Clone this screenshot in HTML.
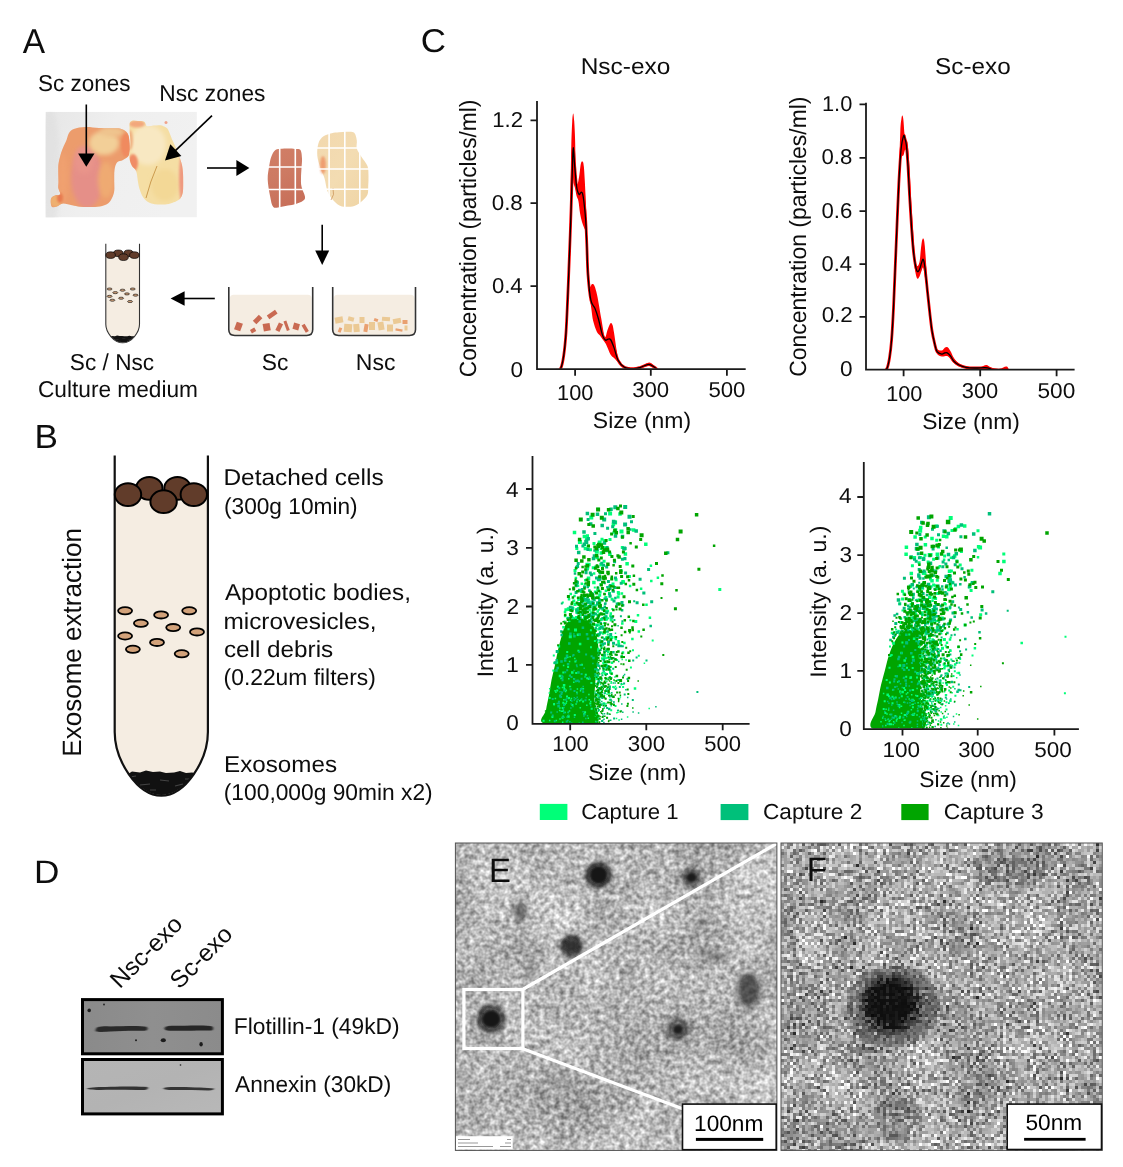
<!DOCTYPE html>
<html><head><meta charset="utf-8"><style>
html,body{margin:0;padding:0;background:#fff;overflow:hidden;}
svg{display:block;}
text{font-family:"Liberation Sans",sans-serif;text-rendering:geometricPrecision;}
svg{will-change:transform;}
</style></head><body>
<svg width="1123" height="1167" viewBox="0 0 1123 1167">
<rect width="1123" height="1167" fill="#fff"/>
<defs>
<marker id="ah" viewBox="0 0 10 10" refX="9" refY="5" markerWidth="5" markerHeight="5" orient="auto-start-reverse" markerUnits="userSpaceOnUse"><path d="M0 0L10 5L0 10z" fill="#000"/></marker>
</defs>
<defs>
<linearGradient id="phbg" x1="0" y1="0" x2="1" y2="0.3"><stop offset="0" stop-color="#e6e6e6"/><stop offset="0.45" stop-color="#efefef"/><stop offset="1" stop-color="#f1f1f1"/></linearGradient>
<radialGradient id="scg" cx="0.45" cy="0.6" r="0.6"><stop offset="0" stop-color="#e38a82"/><stop offset="0.6" stop-color="#e99574"/><stop offset="1" stop-color="#f0a26a"/></radialGradient>
<radialGradient id="nscg" cx="0.45" cy="0.55" r="0.6"><stop offset="0" stop-color="#f8e6b4"/><stop offset="0.7" stop-color="#f5dea6"/><stop offset="1" stop-color="#f0c890"/></radialGradient>
<filter id="bl2" x="-20%" y="-20%" width="140%" height="140%"><feGaussianBlur stdDeviation="2"/></filter>
<filter id="bl1" x="-20%" y="-20%" width="140%" height="140%"><feGaussianBlur stdDeviation="0.8"/></filter>
<clipPath id="phclip"><rect x="45.5" y="111.8" width="151.4" height="105.6"/></clipPath>
<linearGradient id="scp" x1="0" y1="0" x2="0.3" y2="1"><stop offset="0" stop-color="#d17e66"/><stop offset="0.5" stop-color="#cd7a63"/><stop offset="1" stop-color="#c8705a"/></linearGradient>
<linearGradient id="nscp" x1="0" y1="0" x2="1" y2="1"><stop offset="0" stop-color="#f2d8ae"/><stop offset="0.5" stop-color="#f3dcb2"/><stop offset="1" stop-color="#efd4a4"/></linearGradient>
</defs>
<g clip-path="url(#phclip)">
<rect x="45.5" y="111.8" width="151.4" height="105.6" fill="url(#phbg)"/>
<ellipse cx="50" cy="170" rx="10" ry="60" fill="#dcdcdc" opacity="0.5" filter="url(#bl2)"/>
<clipPath id="sctc"><path d="M66.6 139.7 C67.6 137.23 67.8 134.8 69 133 C70.2 131.2 71.05 129.88 73.8 128.9 C76.55 127.92 81.3 127.25 85.5 127.1 C89.7 126.95 94.92 127.8 99 128 C103.08 128.2 106.27 128.15 110 128.3 C113.73 128.45 118.45 128.05 121.4 128.9 C124.35 129.75 126.35 131.05 127.7 133.4 C129.05 135.75 129.28 139.4 129.5 143 C129.72 146.6 130.08 152.17 129 155 C127.92 157.83 125 158.75 123 160 C121 161.25 118.42 160.83 117 162.5 C115.58 164.17 114.97 166.92 114.5 170 C114.03 173.08 114.25 177.5 114.2 181 C114.15 184.5 114.57 188.17 114.2 191 C113.83 193.83 113.03 195.92 112 198 C110.97 200.08 110 202.08 108 203.5 C106 204.92 103 205.9 100 206.5 C97 207.1 93.33 207.05 90 207.1 C86.67 207.15 83 207.1 80 206.8 C77 206.5 74.83 205.85 72 205.3 C69.17 204.75 65.5 203.3 63 203.5 C60.5 203.7 58.8 205.9 57 206.5 C55.2 207.1 53.23 207.68 52.2 207.1 C51.17 206.52 50.95 204.5 50.8 203 C50.65 201.5 50.6 199.35 51.3 198.1 C52 196.85 53.5 196.1 55 195.5 C56.5 194.9 59.75 195.75 60.3 194.5 C60.85 193.25 58.6 190.08 58.3 188 C58 185.92 58.5 184.67 58.5 182 C58.5 179.33 58.3 175 58.3 172 C58.3 169 58.13 166.83 58.5 164 C58.87 161.17 59.75 157.7 60.5 155 C61.25 152.3 61.98 150.35 63 147.8 C64.02 145.25 65.6 142.17 66.6 139.7Z"/></clipPath>
<clipPath id="nsctc"><path d="M129.9 122.6 C130.48 121.52 131.65 120.77 133 120.5 C134.35 120.23 136.12 120.8 138 121 C139.88 121.2 142.8 120.83 144.3 121.7 C145.8 122.57 145.38 125.57 147 126.2 C148.62 126.83 151.75 125.65 154 125.5 C156.25 125.35 158.5 124.97 160.5 125.3 C162.5 125.63 164.65 126.6 166 127.5 C167.35 128.4 167.43 128.37 168.6 130.7 C169.77 133.03 171.68 138.45 173 141.5 C174.32 144.55 175.43 146.45 176.5 149 C177.57 151.55 178.48 154.13 179.4 156.8 C180.32 159.47 181.4 162.3 182 165 C182.6 167.7 182.8 170.17 183 173 C183.2 175.83 183.2 179 183.2 182 C183.2 185 183.28 188.58 183 191 C182.72 193.42 182.25 195 181.5 196.5 C180.75 198 180.08 198.92 178.5 200 C176.92 201.08 174.25 202.27 172 203 C169.75 203.73 167.33 204.15 165 204.4 C162.67 204.65 160.25 204.65 158 204.5 C155.75 204.35 153.5 204.17 151.5 203.5 C149.5 202.83 147.5 201.7 146 200.5 C144.5 199.3 143.58 198.22 142.5 196.3 C141.42 194.38 140.25 191.38 139.5 189 C138.75 186.62 138.55 184.97 138 182 C137.45 179.03 137.2 173.87 136.2 171.2 C135.2 168.53 133.05 167.8 132 166 C130.95 164.2 130.32 162.23 129.9 160.4 C129.48 158.57 129.5 156.65 129.5 155 C129.5 153.35 129.73 152.67 129.9 150.5 C130.07 148.33 130.5 144.7 130.5 142 C130.5 139.3 130.07 136.8 129.9 134.3 C129.73 131.8 129.5 128.95 129.5 127 C129.5 125.05 129.32 123.68 129.9 122.6Z"/></clipPath>
<g clip-path="url(#sctc)">
<rect x="45" y="120" width="90" height="95" fill="#ec9c6c"/>
<ellipse cx="87" cy="178" rx="16" ry="30" fill="#e58f88" filter="url(#bl2)"/>
<ellipse cx="84" cy="160" rx="10" ry="14" fill="#e9948a" filter="url(#bl2)"/>
<ellipse cx="104" cy="143" rx="15" ry="12" fill="#f2cf98" filter="url(#bl2)"/>
<ellipse cx="112" cy="132" rx="12" ry="5" fill="#efc48e" filter="url(#bl2)"/>
<ellipse cx="106" cy="180" rx="8" ry="18" fill="#efaa72" filter="url(#bl2)"/>
<ellipse cx="63" cy="178" rx="5" ry="25" fill="#f0a070" filter="url(#bl2)"/>
<ellipse cx="126" cy="145" rx="5" ry="12" fill="#f08a5e" filter="url(#bl1)"/>
<ellipse cx="56" cy="201" rx="6" ry="6" fill="#eeb070" filter="url(#bl1)"/>
<ellipse cx="60" cy="198" rx="3" ry="5" fill="#e87a50" filter="url(#bl1)"/>
</g>
<g clip-path="url(#nsctc)">
<rect x="125" y="115" width="65" height="95" fill="#f5dea4"/>
<ellipse cx="148" cy="145" rx="18" ry="20" fill="#f8e8c2" filter="url(#bl2)"/>
<ellipse cx="165" cy="185" rx="14" ry="16" fill="#f3d896" filter="url(#bl2)"/>
<ellipse cx="182" cy="178" rx="3" ry="25" fill="#ef9a80" filter="url(#bl1)"/>
<ellipse cx="137" cy="124" rx="8" ry="3.5" fill="#f29a72" opacity="0.8" filter="url(#bl1)"/>
<ellipse cx="133" cy="163" rx="5" ry="9" fill="#f08c66" filter="url(#bl1)"/>
<ellipse cx="130" cy="140" rx="3" ry="10" fill="#f0b080" filter="url(#bl1)"/>
<path d="M146 198 Q150 182 157 166" stroke="#c08a3a" stroke-width="1" fill="none" opacity="0.8"/>
</g>
<circle cx="166" cy="122.5" r="1.5" fill="#f09070" opacity="0.8"/>
</g>
<line x1="86.3" y1="104.5" x2="86.3" y2="154.5" stroke="#000" stroke-width="1.6"/>
<path d="M86.3 166.7L78.1 153.5L94.5 153.5Z" fill="#000"/>
<line x1="212" y1="115.7" x2="175.13" y2="150.84" stroke="#000" stroke-width="1.6"/>
<path d="M165 160.5L170.34 144.36L181.38 155.94Z" fill="#000"/>
<line x1="207" y1="168" x2="237.4" y2="168" stroke="#000" stroke-width="1.6"/>
<path d="M249.4 168L236.4 176L236.4 160Z" fill="#000"/>
<line x1="322.2" y1="224.8" x2="322.2" y2="251.5" stroke="#000" stroke-width="1.6"/>
<path d="M322.2 265L315.2 250.5L329.2 250.5Z" fill="#000"/>
<line x1="214.8" y1="298.5" x2="183.6" y2="298.5" stroke="#000" stroke-width="1.6"/>
<path d="M170.6 298.5L184.6 291.2L184.6 305.8Z" fill="#000"/>
<path d="M275.4 150.1 C277.18 148.78 279.78 149.05 282 148.8 C284.22 148.55 286.53 148.57 288.7 148.6 C290.87 148.63 293.03 148.75 295 149 C296.97 149.25 299.33 148.47 300.5 150.1 C301.67 151.73 301.83 155.82 302 158.8 C302.17 161.78 301.67 164.75 301.5 168 C301.33 171.25 301 175.23 301 178.3 C301 181.37 300.83 183.33 301.5 186.4 C302.17 189.47 304.75 194.3 305 196.7 C305.25 199.1 304.53 199.6 303 200.8 C301.47 202 298.3 203.12 295.8 203.9 C293.3 204.68 290.55 205 288 205.5 C285.45 206 282.95 206.67 280.5 206.9 C278.05 207.13 275.02 208.6 273.3 206.9 C271.58 205.2 271.13 201.3 270.2 196.7 C269.27 192.1 267.87 184.42 267.7 179.3 C267.53 174.18 268.6 169.77 269.2 166 C269.8 162.23 270.27 159.35 271.3 156.7 C272.33 154.05 273.62 151.42 275.4 150.1Z" fill="url(#scp)"/>
<path d="M318.4 143.4 C319.43 140.17 321.28 138 323.5 136.3 C325.72 134.6 329.12 133.87 331.7 133.2 C334.28 132.53 336.45 132.55 339 132.3 C341.55 132.05 344.47 131.63 347 131.7 C349.53 131.77 352.57 131.25 354.2 132.7 C355.83 134.15 356.37 137.75 356.8 140.4 C357.23 143.05 356.03 145.88 356.8 148.6 C357.57 151.32 359.62 153.8 361.4 156.7 C363.18 159.6 366.32 162.75 367.5 166 C368.68 169.25 368.38 172.87 368.5 176.2 C368.62 179.53 368.37 182.93 368.2 186 C368.03 189.07 368.47 192.13 367.5 194.6 C366.53 197.07 364.62 198.92 362.4 200.8 C360.18 202.68 357.62 204.97 354.2 205.9 C350.78 206.83 345.32 207.25 341.9 206.4 C338.48 205.55 336.08 203.27 333.7 200.8 C331.32 198.33 329.13 195.35 327.6 191.6 C326.07 187.85 325.7 182.23 324.5 178.3 C323.3 174.37 321.6 171.77 320.4 168 C319.2 164.23 317.63 159.8 317.3 155.7 C316.97 151.6 317.37 146.63 318.4 143.4Z" fill="url(#nscp)"/>
<ellipse cx="323" cy="165" rx="3" ry="9" fill="#ee9060" opacity="0.8" filter="url(#bl1)"/>
<path d="M333 188 Q335 195 331 200" stroke="#c08040" stroke-width="1" fill="none" opacity="0.6"/>
<path d="M279.7 146V210M295.3 146V210M265 167H308M265 189.5H308" stroke="#fff" stroke-width="1.6"/>
<path d="M329.1 128V210M344.8 128V210M359.8 128V210M315 148H372M315 169H372M315 189.3H372" stroke="#fff" stroke-width="1.6"/>
<rect x="229.8" y="294.8" width="81.9" height="40.2" rx="4" fill="#f5ede2"/>
<rect x="-3.25" y="-4" width="6.5" height="8" fill="#c96a52" transform="translate(238.5 326.5) rotate(20)"/>
<rect x="-2.5" y="-2" width="5" height="4" fill="#c96a52" transform="translate(253.1 330.4) rotate(-30)"/>
<rect x="-2.5" y="-4.25" width="5" height="8.5" fill="#c96a52" transform="translate(257.6 319.6) rotate(45)"/>
<rect x="-3.5" y="-3.75" width="7" height="7.5" fill="#c96a52" transform="translate(266.7 327.2) rotate(-10)"/>
<rect x="-2.25" y="-5" width="4.5" height="10" fill="#c96a52" transform="translate(272.2 314.5) rotate(55)"/>
<rect x="-2.25" y="-4.25" width="4.5" height="8.5" fill="#c96a52" transform="translate(279.2 327.2) rotate(25)"/>
<rect x="-1.5" y="-5" width="3" height="10" fill="#c96a52" transform="translate(286.6 325.7) rotate(-20)"/>
<rect x="-3" y="-3.25" width="6" height="6.5" fill="#c96a52" transform="translate(296.2 326.5) rotate(15)"/>
<rect x="-1.75" y="-4.25" width="3.5" height="8.5" fill="#c96a52" transform="translate(305.2 328.3) rotate(-30)"/>
<path d="M228.8 286.9V329.5Q228.8 335.5 234.8 335.5H306.7Q312.7 335.5 312.7 329.5V286.9" fill="none" stroke="#333" stroke-width="1.6"/>
<rect x="333.7" y="294.8" width="80.8" height="40.2" rx="4" fill="#f5ede2"/>
<rect x="-4" y="-3" width="8" height="6" fill="#ebc994" transform="translate(339 320) rotate(-10)"/>
<rect x="-1.5" y="-2.5" width="3" height="5" fill="#e9a070" transform="translate(340 330) rotate(20)"/>
<rect x="-4" y="-4" width="8" height="8" fill="#ebc994" transform="translate(348 328) rotate(5)"/>
<rect x="-3" y="-2" width="6" height="4" fill="#ebc994" transform="translate(351 319) rotate(15)"/>
<rect x="-3" y="-4" width="6" height="8" fill="#ebc994" transform="translate(356.5 328) rotate(-5)"/>
<rect x="-2.5" y="-3" width="5" height="6" fill="#ebc994" transform="translate(362 320) rotate(0)"/>
<rect x="-2" y="-4" width="4" height="8" fill="#e9a070" transform="translate(366 328) rotate(10)"/>
<rect x="-3" y="-4" width="6" height="8" fill="#ebc994" transform="translate(372 326) rotate(0)"/>
<rect x="-2" y="-1.5" width="4" height="3" fill="#e9a070" transform="translate(376 320) rotate(20)"/>
<rect x="-3" y="-4" width="6" height="8" fill="#ebc994" transform="translate(381 326) rotate(-10)"/>
<rect x="-4" y="-2" width="8" height="4" fill="#ebc994" transform="translate(386 319) rotate(5)"/>
<rect x="-3" y="-3.5" width="6" height="7" fill="#ebc994" transform="translate(390 328) rotate(0)"/>
<rect x="-4" y="-2.5" width="8" height="5" fill="#ebc994" transform="translate(397 321) rotate(-10)"/>
<rect x="-3.5" y="-1.25" width="7" height="2.5" fill="#e9a070" transform="translate(399 330) rotate(10)"/>
<rect x="-1.5" y="-2.5" width="3" height="5" fill="#ebc994" transform="translate(406 328) rotate(0)"/>
<rect x="-2.5" y="-2" width="5" height="4" fill="#e9a070" transform="translate(405 322) rotate(0)"/>
<path d="M332.7 286.9V329.5Q332.7 335.5 338.7 335.5H409.5Q415.5 335.5 415.5 329.5V286.9" fill="none" stroke="#333" stroke-width="1.6"/>
<defs><clipPath id="tclip"><path d="M114.7 490V732C114.7 760 137 795 161.3 795C185.6 795 207.9 760 207.9 732V490Z"/></clipPath></defs>
<g id="tubeB"><path d="M114.7 490V732C114.7 760 137 795 161.3 795C185.6 795 207.9 760 207.9 732V490Z" fill="#f5ede2"/><path d="M110 778 L128 774 L132 771.5 L140 772.5 L146 770.5 L153 772 L160 771.5 L166 773 L174 772.5 L180 771 L186 773 L192 772.5 L200 774 L215 778 V800 H110Z" fill="#111" clip-path="url(#tclip)"/><path d="M120 782l8-2M140 785l10-1M160 780l9 1M175 786l8-2M150 790l6 0M130 777l6-1M185 779l7 0" stroke="#444" stroke-width="1.2" clip-path="url(#tclip)"/><path d="M114.7 455.4V732C114.7 760 137 795.6 161.3 795.6C185.6 795.6 207.9 760 207.9 732V455.4" fill="none" stroke="#111" stroke-width="2.2"/><ellipse cx="149.3" cy="488.4" rx="13.2" ry="11.4" fill="#613c2a" stroke="#000" stroke-width="2"/><ellipse cx="177.5" cy="488.4" rx="13.2" ry="11.4" fill="#613c2a" stroke="#000" stroke-width="2"/><ellipse cx="128" cy="494.6" rx="13.2" ry="11.4" fill="#613c2a" stroke="#000" stroke-width="2"/><ellipse cx="193.8" cy="494.6" rx="13.2" ry="11.4" fill="#613c2a" stroke="#000" stroke-width="2"/><ellipse cx="163.6" cy="501.7" rx="13.2" ry="11.4" fill="#613c2a" stroke="#000" stroke-width="2"/><ellipse cx="125.1" cy="610.8" rx="7" ry="3.6" fill="#d2a27a" stroke="#000" stroke-width="1.8"/><ellipse cx="161.1" cy="614.9" rx="7" ry="3.6" fill="#d2a27a" stroke="#000" stroke-width="1.8"/><ellipse cx="189.2" cy="610.8" rx="7" ry="3.6" fill="#d2a27a" stroke="#000" stroke-width="1.8"/><ellipse cx="140.9" cy="623.3" rx="7" ry="3.6" fill="#d2a27a" stroke="#000" stroke-width="1.8"/><ellipse cx="173.2" cy="627.6" rx="7" ry="3.6" fill="#d2a27a" stroke="#000" stroke-width="1.8"/><ellipse cx="197" cy="631.9" rx="7" ry="3.6" fill="#d2a27a" stroke="#000" stroke-width="1.8"/><ellipse cx="125.1" cy="636" rx="7" ry="3.6" fill="#d2a27a" stroke="#000" stroke-width="1.8"/><ellipse cx="157" cy="642.4" rx="7" ry="3.6" fill="#d2a27a" stroke="#000" stroke-width="1.8"/><ellipse cx="132.9" cy="649.3" rx="7" ry="3.6" fill="#d2a27a" stroke="#000" stroke-width="1.8"/><ellipse cx="181.7" cy="653.8" rx="7" ry="3.6" fill="#d2a27a" stroke="#000" stroke-width="1.8"/></g>
<g transform="translate(64.326 110.908) scale(0.3616 0.2916)"><path d="M114.7 490V732C114.7 760 137 795 161.3 795C185.6 795 207.9 760 207.9 732V490Z" fill="#f5ede2"/><path d="M110 778 L128 774 L132 771.5 L140 772.5 L146 770.5 L153 772 L160 771.5 L166 773 L174 772.5 L180 771 L186 773 L192 772.5 L200 774 L215 778 V800 H110Z" fill="#111" clip-path="url(#tclip)"/><path d="M120 782l8-2M140 785l10-1M160 780l9 1M175 786l8-2M150 790l6 0M130 777l6-1M185 779l7 0" stroke="#444" stroke-width="1.2" clip-path="url(#tclip)"/><path d="M114.7 455.4V732C114.7 760 137 795.6 161.3 795.6C185.6 795.6 207.9 760 207.9 732V455.4" fill="none" stroke="#333" stroke-width="3"/><ellipse cx="149.3" cy="488.4" rx="13.2" ry="11.4" fill="#613c2a" stroke="#000" stroke-width="2"/><ellipse cx="177.5" cy="488.4" rx="13.2" ry="11.4" fill="#613c2a" stroke="#000" stroke-width="2"/><ellipse cx="128" cy="494.6" rx="13.2" ry="11.4" fill="#613c2a" stroke="#000" stroke-width="2"/><ellipse cx="193.8" cy="494.6" rx="13.2" ry="11.4" fill="#613c2a" stroke="#000" stroke-width="2"/><ellipse cx="163.6" cy="501.7" rx="13.2" ry="11.4" fill="#613c2a" stroke="#000" stroke-width="2"/><ellipse cx="125.1" cy="610.8" rx="7" ry="3.6" fill="#d2a27a" stroke="#000" stroke-width="1.8"/><ellipse cx="161.1" cy="614.9" rx="7" ry="3.6" fill="#d2a27a" stroke="#000" stroke-width="1.8"/><ellipse cx="189.2" cy="610.8" rx="7" ry="3.6" fill="#d2a27a" stroke="#000" stroke-width="1.8"/><ellipse cx="140.9" cy="623.3" rx="7" ry="3.6" fill="#d2a27a" stroke="#000" stroke-width="1.8"/><ellipse cx="173.2" cy="627.6" rx="7" ry="3.6" fill="#d2a27a" stroke="#000" stroke-width="1.8"/><ellipse cx="197" cy="631.9" rx="7" ry="3.6" fill="#d2a27a" stroke="#000" stroke-width="1.8"/><ellipse cx="125.1" cy="636" rx="7" ry="3.6" fill="#d2a27a" stroke="#000" stroke-width="1.8"/><ellipse cx="157" cy="642.4" rx="7" ry="3.6" fill="#d2a27a" stroke="#000" stroke-width="1.8"/><ellipse cx="132.9" cy="649.3" rx="7" ry="3.6" fill="#d2a27a" stroke="#000" stroke-width="1.8"/><ellipse cx="181.7" cy="653.8" rx="7" ry="3.6" fill="#d2a27a" stroke="#000" stroke-width="1.8"/></g>
<defs><clipPath id="c1"><rect x="538" y="90" width="210" height="278.5"/></clipPath><clipPath id="c2"><rect x="867" y="90" width="210" height="279"/></clipPath></defs>
<g clip-path="url(#c1)">
<path d="M548 371.5 C549.33 371.05 553.87 369.47 556 368.8 C558.13 368.13 559.52 369.97 560.8 367.5 C562.08 365.03 562.83 360.25 563.7 354 C564.57 347.75 565.33 339.83 566 330 C566.67 320.17 567.22 305.83 567.7 295 C568.18 284.17 568.48 276.17 568.9 265 C569.32 253.83 569.93 238.83 570.2 228 C570.47 217.17 570.4 208.83 570.5 200 C570.6 191.17 570.67 184.17 570.8 175 C570.93 165.83 571.07 153.83 571.3 145 C571.53 136.17 571.88 127.27 572.2 122 C572.52 116.73 572.87 113.57 573.2 113.4 C573.53 113.23 573.88 116.57 574.2 121 C574.52 125.43 574.87 132.17 575.1 140 C575.33 147.83 575.38 161.17 575.6 168 C575.82 174.83 576.07 178.33 576.4 181 C576.73 183.67 577.13 184.83 577.6 184 C578.07 183.17 578.67 179.33 579.2 176 C579.73 172.67 580.27 166.43 580.8 164 C581.33 161.57 581.88 160.9 582.4 161.4 C582.92 161.9 583.37 161.23 583.9 167 C584.43 172.77 585.12 186.33 585.6 196 C586.08 205.67 586.4 212.67 586.8 225 C587.2 237.33 587.52 259.78 588 270 C588.48 280.22 589.03 283.97 589.7 286.3 C590.37 288.63 591.23 284.13 592 284 C592.77 283.87 593.43 283.58 594.3 285.5 C595.17 287.42 596.03 289.97 597.2 295.5 C598.37 301.03 600.03 311.78 601.3 318.7 C602.57 325.62 603.77 335.12 604.8 337 C605.83 338.88 606.55 332.28 607.5 330 C608.45 327.72 609.67 324.13 610.5 323.3 C611.33 322.47 611.92 323.45 612.5 325 C613.08 326.55 613.17 327.48 614 332.6 C614.83 337.72 616.53 350.68 617.5 355.7 C618.47 360.72 618.27 360.58 619.8 362.7 C621.33 364.82 624.17 367.4 626.7 368.4 C629.23 369.4 632.45 369.1 635 368.7 C637.55 368.3 639.62 367.03 642 366 C644.38 364.97 647.13 362.42 649.3 362.5 C651.47 362.58 653.05 365 655 366.5 C656.95 368 653.5 370.67 661 371.5 C668.5 372.33 693.5 371.5 700 371.5 L700 371.5 700 371.5 C693.5 371.5 668.5 372.08 661 371.5 C653.5 370.92 657 368.92 655 368 C653 367.08 651.17 366 649 366 C646.83 366 644.55 367.08 642 368 C639.45 368.92 636.63 371.43 633.7 371.5 C630.77 371.57 627.1 370.07 624.4 368.4 C621.7 366.73 619.23 363.23 617.5 361.5 C615.77 359.77 615.17 359.15 614 358 C612.83 356.85 611.85 356.92 610.5 354.6 C609.15 352.28 607.25 346.7 605.9 344.1 C604.55 341.5 603.38 340.43 602.4 339 C601.42 337.57 600.95 336.77 600 335.5 C599.05 334.23 597.83 333.82 596.7 331.4 C595.57 328.98 594.07 324.57 593.2 321 C592.33 317.43 592.08 314.33 591.5 310 C590.92 305.67 590.28 300.67 589.7 295 C589.12 289.33 588.48 284.17 588 276 C587.52 267.83 587.2 253.33 586.8 246 C586.4 238.67 586.07 235.1 585.6 232 C585.13 228.9 584.6 229.07 584 227.4 C583.4 225.73 582.67 224.4 582 222 C581.33 219.6 580.6 216.5 580 213 C579.4 209.5 578.97 203.83 578.4 201 C577.83 198.17 577.17 198.17 576.6 196 C576.03 193.83 575.5 190.08 575 188 C574.5 185.92 574.03 185.67 573.6 183.5 C573.17 181.33 572.83 169.75 572.4 175 C571.97 180.25 571.37 204.17 571 215 C570.63 225.83 570.55 230.5 570.2 240 C569.85 249.5 569.32 262 568.9 272 C568.48 282 568.18 289.5 567.7 300 C567.22 310.5 566.67 325.5 566 335 C565.33 344.5 564.57 350.92 563.7 357 C562.83 363.08 562.08 369.08 560.8 371.5 C559.52 373.92 558.13 371.5 556 371.5 C553.87 371.5 549.33 371.5 548 371.5Z" fill="#ff0000"/>
<path d="M548 371.5 C549.33 371.5 553.87 372.05 556 371.5 C558.13 370.95 559.52 370.83 560.8 368.2 C562.08 365.57 562.83 361.63 563.7 355.7 C564.57 349.77 565.33 342.23 566 332.6 C566.67 322.97 567.22 308.52 567.7 297.9 C568.18 287.28 568.48 279.38 568.9 268.9 C569.32 258.42 569.85 244.48 570.2 235 C570.55 225.52 570.63 223.17 571 212 C571.37 200.83 572.03 178.73 572.4 168 C572.77 157.27 572.8 147.7 573.2 147.6 C573.6 147.5 574.23 160.9 574.8 167.4 C575.37 173.9 575.9 182.1 576.6 186.6 C577.3 191.1 578.3 193.42 579 194.4 C579.7 195.38 580.23 192.7 580.8 192.5 C581.37 192.3 581.9 191.78 582.4 193.2 C582.9 194.62 583.27 196.7 583.8 201 C584.33 205.3 585.1 211.83 585.6 219 C586.1 226.17 586.4 234.72 586.8 244 C587.2 253.28 587.32 265.33 588 274.7 C588.68 284.07 589.75 294.6 590.9 300.2 C592.05 305.8 593.65 305.22 594.9 308.3 C596.15 311.38 597.15 314.27 598.4 318.7 C599.65 323.13 601.25 331.33 602.4 334.9 C603.55 338.47 604.37 339.38 605.3 340.1 C606.23 340.82 607.13 339.3 608 339.2 C608.87 339.1 609.5 338.1 610.5 339.5 C611.5 340.9 612.73 344.13 614 347.6 C615.27 351.07 616.37 357.02 618.1 360.3 C619.83 363.58 621.8 365.9 624.4 367.3 C627 368.7 631 368.7 633.7 368.7 C636.4 368.7 638.1 368.02 640.6 367.3 C643.1 366.58 646.38 364.4 648.7 364.4 C651.02 364.4 652.57 366.12 654.5 367.3 C656.43 368.48 658.05 370.8 660.3 371.5 C662.55 372.2 661.38 371.5 668 371.5 C674.62 371.5 694.67 371.5 700 371.5" fill="none" stroke="#ff0000" stroke-width="2.8" stroke-linejoin="round"/>
<path d="M548 371.5 C549.33 371.5 553.87 372.05 556 371.5 C558.13 370.95 559.52 370.83 560.8 368.2 C562.08 365.57 562.83 361.63 563.7 355.7 C564.57 349.77 565.33 342.23 566 332.6 C566.67 322.97 567.22 308.52 567.7 297.9 C568.18 287.28 568.48 279.38 568.9 268.9 C569.32 258.42 569.85 244.48 570.2 235 C570.55 225.52 570.63 223.17 571 212 C571.37 200.83 572.03 178.73 572.4 168 C572.77 157.27 572.8 147.7 573.2 147.6 C573.6 147.5 574.23 160.9 574.8 167.4 C575.37 173.9 575.9 182.1 576.6 186.6 C577.3 191.1 578.3 193.42 579 194.4 C579.7 195.38 580.23 192.7 580.8 192.5 C581.37 192.3 581.9 191.78 582.4 193.2 C582.9 194.62 583.27 196.7 583.8 201 C584.33 205.3 585.1 211.83 585.6 219 C586.1 226.17 586.4 234.72 586.8 244 C587.2 253.28 587.32 265.33 588 274.7 C588.68 284.07 589.75 294.6 590.9 300.2 C592.05 305.8 593.65 305.22 594.9 308.3 C596.15 311.38 597.15 314.27 598.4 318.7 C599.65 323.13 601.25 331.33 602.4 334.9 C603.55 338.47 604.37 339.38 605.3 340.1 C606.23 340.82 607.13 339.3 608 339.2 C608.87 339.1 609.5 338.1 610.5 339.5 C611.5 340.9 612.73 344.13 614 347.6 C615.27 351.07 616.37 357.02 618.1 360.3 C619.83 363.58 621.8 365.9 624.4 367.3 C627 368.7 631 368.7 633.7 368.7 C636.4 368.7 638.1 368.02 640.6 367.3 C643.1 366.58 646.38 364.4 648.7 364.4 C651.02 364.4 652.57 366.12 654.5 367.3 C656.43 368.48 658.05 370.8 660.3 371.5 C662.55 372.2 661.38 371.5 668 371.5 C674.62 371.5 694.67 371.5 700 371.5" fill="none" stroke="#000" stroke-width="1.3" stroke-linejoin="round"/>
</g>
<g clip-path="url(#c2)">
<path d="M875 371.5 C876.17 371.5 880.03 372.08 882 371.5 C883.97 370.92 885.55 370.5 886.8 368 C888.05 365.5 888.7 361.5 889.5 356.5 C890.3 351.5 890.93 346.42 891.6 338 C892.27 329.58 892.9 318.17 893.5 306 C894.1 293.83 894.62 279 895.2 265 C895.78 251 896.4 236.5 897 222 C897.6 207.5 898.25 193 898.8 178 C899.35 163 899.87 141.83 900.3 132 C900.73 122.17 901.05 121.73 901.4 119 C901.75 116.27 902.07 115.43 902.4 115.6 C902.73 115.77 903.07 117.1 903.4 120 C903.73 122.9 904.08 129.75 904.4 133 C904.72 136.25 904.97 138.2 905.3 139.5 C905.63 140.8 906.07 140.38 906.4 140.8 C906.73 141.22 906.97 140.3 907.3 142 C907.63 143.7 907.98 146 908.4 151 C908.82 156 909.3 163.33 909.8 172 C910.3 180.67 910.83 193 911.4 203 C911.97 213 912.57 222.83 913.2 232 C913.83 241.17 914.53 252.33 915.2 258 C915.87 263.67 916.48 265.33 917.2 266 C917.92 266.67 918.9 264.67 919.5 262 C920.1 259.33 920.42 253.33 920.8 250 C921.18 246.67 921.5 243.83 921.8 242 C922.1 240.17 922.37 239.57 922.6 239 C922.83 238.43 922.97 238.43 923.2 238.6 C923.43 238.77 923.73 238.77 924 240 C924.27 241.23 924.5 242.83 924.8 246 C925.1 249.17 925.35 252.5 925.8 259 C926.25 265.5 926.83 276.5 927.5 285 C928.17 293.5 929.07 303 929.8 310 C930.53 317 931.12 321.83 931.9 327 C932.68 332.17 933.63 337.33 934.5 341 C935.37 344.67 935.85 347.42 937.1 349 C938.35 350.58 940.68 350.75 942 350.5 C943.32 350.25 944.02 348 945 347.5 C945.98 347 946.9 346.75 947.9 347.5 C948.9 348.25 950 350.25 951 352 C952 353.75 952.57 356.08 953.9 358 C955.23 359.92 957 362.08 959 363.5 C961 364.92 963.55 365.88 965.9 366.5 C968.25 367.12 970.75 367.03 973.1 367.2 C975.45 367.37 977.8 367.87 980 367.5 C982.2 367.13 984.47 365 986.3 365 C988.13 365 988.72 366.9 991 367.5 C993.28 368.1 997.38 368.77 1000 368.6 C1002.62 368.43 1004.7 366.02 1006.7 366.5 C1008.7 366.98 1008.12 370.67 1012 371.5 C1015.88 372.33 1027 371.5 1030 371.5 L1030 371.5 1030 371.5 C1024.12 371.5 1002.2 371.95 994.7 371.5 C987.2 371.05 988.28 368.8 985 368.8 C981.72 368.8 978.18 371.58 975 371.5 C971.82 371.42 968.57 369.13 965.9 368.3 C963.23 367.47 961 367.38 959 366.5 C957 365.62 955.32 364.25 953.9 363 C952.48 361.75 951.62 360.17 950.5 359 C949.38 357.83 948.63 356.42 947.2 356 C945.77 355.58 943.58 356.83 941.9 356.5 C940.22 356.17 938.33 355.75 937.1 354 C935.87 352.25 935.37 349.5 934.5 346 C933.63 342.5 932.68 338 931.9 333 C931.12 328 930.53 322.33 929.8 316 C929.07 309.67 928.3 301.33 927.5 295 C926.7 288.67 925.72 282.53 925 278 C924.28 273.47 923.78 268.97 923.2 267.8 C922.62 266.63 922.12 269.55 921.5 271 C920.88 272.45 920.22 275.23 919.5 276.5 C918.78 277.77 917.92 279.52 917.2 278.6 C916.48 277.68 915.87 274.93 915.2 271 C914.53 267.07 913.83 261.5 913.2 255 C912.57 248.5 912 241.17 911.4 232 C910.8 222.83 910.17 210 909.6 200 C909.03 190 908.53 180 908 172 C907.47 164 906.9 155.67 906.4 152 C905.9 148.33 905.47 149.5 905 150 C904.53 150.5 904.27 153.33 903.6 155 C902.93 156.67 901.8 154.17 901 160 C900.2 165.83 899.47 178.67 898.8 190 C898.13 201.33 897.6 214.58 897 228 C896.4 241.42 895.78 256.83 895.2 270.5 C894.62 284.17 894.1 298.17 893.5 310 C892.9 321.83 892.27 333.25 891.6 341.5 C890.93 349.75 890.3 354.5 889.5 359.5 C888.7 364.5 888.05 369.5 886.8 371.5 C885.55 373.5 883.97 371.5 882 371.5 C880.03 371.5 876.17 371.5 875 371.5Z" fill="#ff0000"/>
<path d="M875 371.5 C876.17 371.5 880.03 371.95 882 371.5 C883.97 371.05 885.55 371.05 886.8 368.8 C888.05 366.55 888.7 362.85 889.5 358 C890.3 353.15 890.93 348.03 891.6 339.7 C892.27 331.37 892.9 319.98 893.5 308 C894.1 296.02 894.62 281.63 895.2 267.8 C895.78 253.97 896.4 238.98 897 225 C897.6 211.02 898.13 196.4 898.8 183.9 C899.47 171.4 900.2 157.98 901 150 C901.8 142.02 902.93 137.83 903.6 136 C904.27 134.17 904.53 137.42 905 139 C905.47 140.58 905.9 141 906.4 145.5 C906.9 150 907.47 157.6 908 166 C908.53 174.4 909.03 186.07 909.6 195.9 C910.17 205.73 910.8 216.22 911.4 225 C912 233.78 912.57 242.1 913.2 248.6 C913.83 255.1 914.53 260.2 915.2 264 C915.87 267.8 916.48 270.48 917.2 271.4 C917.92 272.32 918.78 270.9 919.5 269.5 C920.22 268.1 920.88 264.68 921.5 263 C922.12 261.32 922.62 258.57 923.2 259.4 C923.78 260.23 924.28 262.6 925 268 C925.72 273.4 926.7 284.3 927.5 291.8 C928.3 299.3 929.07 306.6 929.8 313 C930.53 319.4 931.12 325.2 931.9 330.2 C932.68 335.2 933.63 339.42 934.5 343 C935.37 346.58 935.87 349.85 937.1 351.7 C938.33 353.55 940.67 353.88 941.9 354.1 C943.13 354.32 943.62 353.2 944.5 353 C945.38 352.8 946.2 352.4 947.2 352.9 C948.2 353.4 949.38 354.6 950.5 356 C951.62 357.4 952.48 359.8 953.9 361.3 C955.32 362.8 957 364 959 365 C961 366 963.23 366.8 965.9 367.3 C968.57 367.8 971.82 367.95 975 368 C978.18 368.05 982.5 367.5 985 367.6 C987.5 367.7 988.38 367.95 990 368.6 C991.62 369.25 993.03 371.02 994.7 371.5 C996.37 371.98 994.12 371.5 1000 371.5 C1005.88 371.5 1025 371.5 1030 371.5" fill="none" stroke="#ff0000" stroke-width="2.8" stroke-linejoin="round"/>
<path d="M875 371.5 C876.17 371.5 880.03 371.95 882 371.5 C883.97 371.05 885.55 371.05 886.8 368.8 C888.05 366.55 888.7 362.85 889.5 358 C890.3 353.15 890.93 348.03 891.6 339.7 C892.27 331.37 892.9 319.98 893.5 308 C894.1 296.02 894.62 281.63 895.2 267.8 C895.78 253.97 896.4 238.98 897 225 C897.6 211.02 898.13 196.4 898.8 183.9 C899.47 171.4 900.2 157.98 901 150 C901.8 142.02 902.93 137.83 903.6 136 C904.27 134.17 904.53 137.42 905 139 C905.47 140.58 905.9 141 906.4 145.5 C906.9 150 907.47 157.6 908 166 C908.53 174.4 909.03 186.07 909.6 195.9 C910.17 205.73 910.8 216.22 911.4 225 C912 233.78 912.57 242.1 913.2 248.6 C913.83 255.1 914.53 260.2 915.2 264 C915.87 267.8 916.48 270.48 917.2 271.4 C917.92 272.32 918.78 270.9 919.5 269.5 C920.22 268.1 920.88 264.68 921.5 263 C922.12 261.32 922.62 258.57 923.2 259.4 C923.78 260.23 924.28 262.6 925 268 C925.72 273.4 926.7 284.3 927.5 291.8 C928.3 299.3 929.07 306.6 929.8 313 C930.53 319.4 931.12 325.2 931.9 330.2 C932.68 335.2 933.63 339.42 934.5 343 C935.37 346.58 935.87 349.85 937.1 351.7 C938.33 353.55 940.67 353.88 941.9 354.1 C943.13 354.32 943.62 353.2 944.5 353 C945.38 352.8 946.2 352.4 947.2 352.9 C948.2 353.4 949.38 354.6 950.5 356 C951.62 357.4 952.48 359.8 953.9 361.3 C955.32 362.8 957 364 959 365 C961 366 963.23 366.8 965.9 367.3 C968.57 367.8 971.82 367.95 975 368 C978.18 368.05 982.5 367.5 985 367.6 C987.5 367.7 988.38 367.95 990 368.6 C991.62 369.25 993.03 371.02 994.7 371.5 C996.37 371.98 994.12 371.5 1000 371.5 C1005.88 371.5 1025 371.5 1030 371.5" fill="none" stroke="#000" stroke-width="1.3" stroke-linejoin="round"/>
</g>
<clipPath id="sc1"><rect x="533.4" y="440" width="230" height="283.6"/></clipPath>
<g clip-path="url(#sc1)">
<path d="M544.5 723.8 C536.25 721.5 545.25 714.8 546 710 C546.75 705.2 548.08 700 549 695 C549.92 690 550.5 685 551.5 680 C552.5 675 553.92 670 555 665 C556.08 660 556.83 655 558 650 C559.17 645 560.67 639.33 562 635 C563.33 630.67 564 626.83 566 624 C568 621.17 571 618.83 574 618 C577 617.17 581 618 584 619 C587 620 589.92 621.33 592 624 C594.08 626.67 595.42 630.67 596.5 635 C597.58 639.33 598.33 645 598.5 650 C598.67 655 598 660 597.5 665 C597 670 596 674.17 595.5 680 C595 685.83 594.5 692.7 594.5 700 C594.5 707.3 603.83 719.83 595.5 723.8 C587.17 727.77 552.75 726.1 544.5 723.8Z" fill="#00a500"/>
<path d="M596.5 704.0h0M577.4 689.1h0M555.9 692.3h0M566.3 690.3h0M597.8 716.3h0M618.0 712.3h0M598.0 696.4h0M595.5 716.0h0M609.8 693.2h0M563.6 665.5h0M588.9 694.6h0M559.9 707.9h0M559.7 710.6h0M605.4 692.4h0M607.9 689.6h0M602.1 721.3h0M620.4 697.1h0M589.3 699.8h0M606.9 681.4h0M570.4 686.5h0M615.5 686.3h0M606.0 703.4h0M626.1 659.9h0M565.7 691.6h0M597.6 715.2h0M586.8 705.3h0M581.0 700.0h0M556.3 720.6h0M571.4 698.6h0M560.0 719.1h0M622.7 684.2h0M605.7 690.9h0M603.2 658.8h0M597.6 677.2h0M596.7 677.8h0M603.3 683.3h0M598.6 711.2h0M597.8 693.6h0M590.7 701.5h0M564.2 687.3h0M565.1 658.3h0M549.7 720.5h0M561.3 696.8h0M605.1 705.5h0M568.2 712.5h0M580.3 707.8h0M576.9 692.3h0M601.6 689.7h0M595.1 691.9h0M568.8 678.7h0M561.0 678.6h0M617.3 680.1h0M622.2 659.5h0M601.7 680.4h0M598.6 715.4h0M595.7 715.3h0M577.0 701.3h0M579.7 700.7h0M605.4 667.6h0M563.4 710.6h0M582.9 723.7h0M570.6 700.3h0M549.7 688.7h0M598.3 690.1h0M561.7 678.1h0M619.1 719.9h0M553.5 670.7h0M549.3 693.0h0M600.5 689.3h0M581.7 688.4h0M607.1 694.2h0M597.7 720.6h0M555.4 698.4h0M600.4 696.4h0M588.3 718.3h0M598.1 707.1h0M562.7 722.2h0M601.8 632.2h0M573.8 682.3h0M605.3 693.3h0M616.9 712.8h0M566.7 701.2h0M596.0 721.4h0M555.1 690.8h0M566.3 703.0h0M602.0 644.8h0M570.1 656.8h0M569.5 710.9h0M560.4 695.9h0M601.8 673.5h0M562.5 687.4h0M554.1 704.8h0M611.1 683.3h0M600.5 684.6h0M605.9 675.5h0M599.0 692.1h0M644.4 663.3h0M561.4 711.3h0M598.4 718.3h0M621.2 684.7h0M563.1 716.3h0M565.2 712.5h0M614.9 677.0h0M595.3 697.6h0M607.0 718.1h0M569.8 686.4h0M569.6 661.4h0M615.5 633.3h0M568.6 698.6h0M600.7 703.9h0M616.5 687.9h0M604.4 695.6h0M573.9 678.8h0M580.5 690.8h0M576.1 704.0h0M562.8 711.3h0M627.6 717.0h0M574.8 658.5h0M605.2 705.9h0M563.9 699.8h0M597.5 665.3h0M583.4 688.7h0M596.0 683.4h0M608.5 693.2h0M649.2 708.4h0M616.5 718.5h0M611.3 681.8h0M619.6 698.7h0M606.1 689.9h0M567.8 657.2h0M614.6 680.8h0" stroke="#00ff78" stroke-width="1.5" stroke-linecap="square"/>
<path d="M613.2 686.9h0M605.7 679.8h0M598.0 684.7h0M584.3 714.0h0M554.1 704.0h0M562.8 602.4h0M598.7 701.8h0M594.8 587.5h0M607.0 688.4h0M588.7 679.1h0M607.4 657.7h0M610.0 672.7h0M604.9 652.5h0M568.1 667.1h0M603.5 669.5h0M578.4 650.8h0M607.6 661.6h0M611.2 710.3h0M590.3 703.6h0M552.4 717.0h0M600.1 678.9h0M563.3 672.4h0M599.9 706.5h0M587.2 678.2h0M608.2 678.6h0M608.4 618.2h0M605.3 705.4h0M581.9 664.7h0M567.2 652.1h0M588.7 600.1h0M598.1 695.3h0M623.1 686.9h0M575.4 661.5h0M604.3 654.0h0M591.4 683.0h0M553.8 655.4h0M591.0 647.3h0M585.1 712.3h0M598.4 676.6h0M652.7 640.6h0M619.2 643.8h0M599.2 687.9h0M604.9 669.8h0M576.2 673.1h0M575.6 618.0h0M563.3 702.8h0M568.5 629.3h0M554.4 662.9h0M633.0 650.2h0M598.7 610.1h0M615.5 706.0h0M601.6 691.0h0M599.7 700.0h0M630.9 667.6h0M606.2 637.5h0M602.7 672.8h0M596.0 714.2h0M577.7 583.2h0M603.3 659.0h0M599.3 625.6h0M610.5 666.8h0M596.7 676.6h0M567.1 618.2h0M604.6 662.4h0M603.0 655.4h0M577.9 619.1h0M581.2 613.1h0M630.4 620.3h0M596.1 698.9h0M606.2 631.7h0M564.5 689.0h0M584.5 586.4h0M595.3 709.3h0M597.0 624.8h0M562.7 708.1h0M583.1 701.5h0M598.6 682.5h0M600.4 694.0h0M600.0 602.2h0M592.4 616.4h0M597.4 614.8h0M605.7 638.2h0M584.7 584.1h0M607.8 634.6h0M572.4 705.1h0M564.6 621.4h0M579.3 608.5h0M600.8 627.9h0M598.5 636.3h0M602.9 633.8h0M614.4 687.4h0M603.2 645.0h0M590.9 630.3h0M598.4 648.7h0M574.8 715.1h0M604.8 673.2h0M598.9 660.6h0M611.2 659.0h0M611.2 654.8h0M576.1 603.4h0M598.8 622.5h0M549.7 697.9h0M553.4 670.5h0M609.3 658.1h0M607.7 654.5h0M595.9 628.1h0M597.9 642.4h0M638.8 655.7h0M603.9 623.2h0M617.1 660.1h0M567.0 696.4h0M575.4 604.5h0M562.5 717.8h0M610.4 652.3h0M611.9 674.0h0M569.0 697.9h0M557.2 690.4h0M557.9 686.7h0M564.8 704.3h0M610.9 667.1h0M543.6 720.8h0M589.3 590.9h0M585.8 674.8h0M610.0 671.8h0M605.8 658.2h0M594.9 640.9h0M612.3 609.0h0M591.7 708.8h0M609.6 687.1h0M599.9 632.4h0M602.0 686.7h0M609.8 699.8h0M604.7 618.3h0" stroke="#00ff78" stroke-width="2.0" stroke-linecap="square"/>
<path d="M580.1 644.1h0M618.6 643.7h0M597.5 670.2h0M604.2 613.8h0M569.2 620.8h0M581.0 607.8h0M591.5 612.5h0M599.4 653.1h0M585.2 609.1h0M564.1 685.3h0M585.5 617.7h0M584.9 607.3h0M606.6 637.5h0M599.5 614.3h0M604.7 633.1h0M601.7 565.2h0M598.5 629.3h0M578.4 599.7h0M590.9 604.4h0M578.0 634.7h0M657.9 577.7h0M618.5 641.3h0M592.8 609.7h0M605.3 674.0h0M596.8 675.7h0M570.8 593.9h0M610.3 671.0h0M649.9 617.7h0M602.2 658.5h0M587.9 606.4h0M589.6 610.3h0M598.4 625.0h0M595.1 591.7h0M593.3 615.2h0M603.9 659.3h0M600.9 548.8h0M583.9 597.9h0M584.6 601.1h0M568.4 716.5h0M574.5 595.9h0M596.1 619.4h0M603.8 703.5h0M569.0 599.3h0M581.8 583.8h0M604.5 657.5h0M563.5 627.3h0M600.4 632.7h0M593.4 607.0h0M607.9 611.1h0M588.8 585.6h0M630.1 586.1h0M580.3 614.8h0M610.4 615.9h0M638.0 615.3h0M580.9 605.9h0M558.9 646.2h0M651.3 581.1h0M612.0 662.8h0M587.9 616.3h0M585.3 580.2h0M602.9 626.4h0M580.4 599.6h0M591.0 616.6h0M556.9 662.4h0M578.1 608.2h0M565.0 612.0h0M565.1 616.1h0M603.5 663.3h0M598.3 650.5h0M584.2 618.1h0M578.8 611.3h0M568.4 609.8h0M587.6 618.1h0M608.1 651.8h0M583.1 596.5h0M578.0 585.7h0M578.3 598.2h0M595.2 624.8h0M596.5 678.9h0M592.8 624.5h0M622.3 623.4h0M601.4 643.0h0M560.0 675.9h0M585.5 618.9h0M606.1 666.2h0M597.7 611.5h0M621.6 570.6h0M572.2 610.1h0M602.6 609.6h0M573.4 618.1h0M593.7 616.0h0M606.3 664.6h0M604.4 656.8h0M605.9 590.7h0M621.8 656.2h0M601.5 647.6h0M638.8 631.4h0M594.1 573.5h0M641.1 588.8h0M610.8 613.5h0M606.9 649.8h0M600.0 640.5h0M605.9 618.2h0M607.0 665.9h0M614.9 637.3h0M596.6 634.8h0M606.1 619.4h0M595.9 605.5h0M576.3 617.3h0M587.8 569.3h0M579.0 609.1h0M623.0 652.4h0M572.0 617.1h0M621.9 593.4h0M624.4 643.0h0M575.9 578.0h0M572.3 672.6h0M596.5 625.5h0M576.5 612.5h0M615.8 639.0h0M611.8 673.6h0M646.5 604.7h0M650.9 565.8h0M632.4 638.9h0M635.0 688.4h0" stroke="#00ff78" stroke-width="2.5" stroke-linecap="square"/>
<path d="M570.3 636.8h0M618.4 604.1h0M597.7 589.9h0M618.1 597.1h0M593.2 567.7h0M571.2 610.6h0M599.7 595.3h0M635.8 621.4h0M576.8 548.5h0M623.4 582.3h0M600.8 584.6h0M581.5 591.5h0M584.8 617.2h0M576.5 609.9h0M616.1 579.7h0M586.9 564.2h0M574.9 604.6h0M588.0 601.6h0M606.6 619.1h0M614.0 532.3h0M594.0 543.4h0M572.9 608.4h0M609.5 593.5h0M610.0 539.4h0M605.9 597.4h0M584.3 605.6h0M602.0 539.2h0M588.1 546.0h0M573.8 600.9h0M590.5 549.8h0M613.0 584.1h0M599.8 603.2h0M575.5 629.9h0M565.9 609.8h0M604.5 547.8h0M587.5 535.7h0M629.4 576.4h0M611.2 620.1h0M618.8 593.8h0M585.3 618.6h0M605.9 616.9h0M597.9 509.2h0M601.3 619.4h0M606.6 611.4h0M604.1 561.3h0M589.7 602.0h0M618.3 592.6h0M568.3 608.7h0M622.3 547.4h0M575.0 570.5h0M600.1 592.1h0M599.8 628.2h0M578.7 611.7h0M588.6 595.3h0M611.7 637.4h0M612.1 599.3h0M719.8 589.4h0" stroke="#00ff78" stroke-width="3.0" stroke-linecap="square"/>
<path d="M585.4 548.6h0M588.9 564.5h0M584.4 536.4h0M627.1 563.8h0M623.0 581.7h0M588.5 578.3h0M586.7 539.1h0M620.0 514.0h0M574.5 532.6h0M587.5 567.1h0M604.7 541.0h0M609.9 554.3h0M625.4 554.1h0M593.9 582.4h0M601.1 564.5h0M645.8 544.2h0M605.4 617.2h0M597.1 557.6h0M597.8 597.6h0M601.3 553.0h0M633.6 530.1h0M613.4 524.6h0M615.5 530.1h0" stroke="#00ff78" stroke-width="3.5" stroke-linecap="square"/>
<path d="M621.5 531.4h0M596.8 551.7h0M579.9 542.0h0M599.7 542.4h0M610.1 513.6h0M615.1 522.5h0M591.3 517.6h0" stroke="#00ff78" stroke-width="4.0" stroke-linecap="square"/>
<path d="M576.7 665.2h0M601.8 701.6h0M559.8 696.7h0M583.0 690.1h0M602.8 710.4h0M574.0 670.6h0M655.9 706.7h0M603.3 670.8h0M571.8 723.2h0M563.3 709.8h0M595.9 700.8h0M611.8 692.8h0M572.8 655.9h0M598.7 669.7h0M597.1 699.6h0M590.7 705.7h0M559.3 687.8h0M604.0 719.2h0M573.9 633.9h0M627.7 697.4h0M599.4 680.4h0M576.6 665.0h0M611.7 701.1h0M599.5 666.0h0M584.2 668.3h0M564.6 712.2h0M577.1 693.8h0M567.0 716.9h0M624.6 674.6h0M586.2 697.4h0M625.9 689.7h0M577.0 666.5h0M558.7 703.0h0M573.0 706.4h0M602.3 692.7h0M598.6 688.5h0M611.2 705.8h0M609.0 714.1h0M623.6 675.8h0M578.0 699.6h0M622.8 712.2h0M557.2 711.9h0M576.3 660.6h0M604.3 708.1h0M621.3 710.9h0M599.3 718.4h0M603.9 704.0h0M597.9 674.0h0M554.9 721.6h0M621.8 704.0h0M599.2 697.9h0M601.0 689.3h0M615.1 683.0h0M633.1 712.1h0M603.9 722.6h0M595.1 697.3h0M577.2 697.3h0M610.7 720.2h0M583.1 711.7h0M599.4 700.0h0M581.7 699.1h0M554.5 720.9h0M609.9 697.0h0M557.3 703.4h0M613.9 701.7h0M604.1 671.4h0M560.0 691.8h0M638.6 713.1h0M618.7 661.6h0M596.0 699.4h0M562.4 717.2h0M575.8 698.7h0M562.0 675.4h0M610.3 657.1h0M598.2 709.0h0M589.3 677.3h0M562.3 692.5h0M602.6 714.0h0M576.9 702.6h0M618.3 710.3h0M567.8 720.5h0M602.7 720.4h0M598.7 692.6h0M599.7 667.5h0M603.2 716.0h0M615.5 688.9h0M583.2 686.6h0M562.4 677.7h0M596.1 683.8h0M559.1 703.7h0M617.7 710.5h0M579.3 723.3h0M604.7 687.0h0M597.5 676.2h0M604.7 693.4h0M574.3 700.0h0M583.9 715.9h0M616.3 676.2h0M596.3 686.5h0M599.5 697.7h0M568.4 712.1h0M595.2 708.2h0M602.0 704.0h0M615.8 689.3h0M621.3 683.6h0M570.2 675.2h0M585.8 718.5h0M607.9 691.3h0M604.5 713.7h0M574.3 697.8h0M595.7 707.5h0M598.2 681.1h0M561.7 692.1h0M571.8 701.1h0M604.3 693.0h0M599.6 694.6h0M564.0 707.6h0M594.9 676.3h0M602.7 687.2h0M600.3 695.3h0M564.1 717.3h0M592.9 663.6h0M569.9 721.8h0M596.8 722.0h0M595.5 700.4h0M570.9 708.0h0M567.0 698.4h0M571.2 704.1h0M613.9 702.9h0M618.1 625.7h0M587.5 715.8h0M568.5 715.3h0M596.1 723.2h0M562.7 679.1h0M574.5 717.2h0M621.6 719.3h0M582.8 722.3h0M595.4 701.2h0M613.2 682.9h0M563.8 713.1h0M607.3 713.9h0" stroke="#00c07a" stroke-width="1.5" stroke-linecap="square"/>
<path d="M562.6 676.7h0M584.5 714.4h0M582.2 597.9h0M579.2 651.9h0M599.7 702.6h0M601.4 678.4h0M567.2 670.3h0M612.3 696.5h0M580.5 665.0h0M585.5 700.2h0M609.6 688.9h0M564.0 705.0h0M597.0 625.4h0M601.4 705.0h0M614.9 658.9h0M565.2 672.3h0M599.4 689.7h0M636.6 657.4h0M552.7 715.5h0M597.5 639.9h0M602.6 641.3h0M604.8 583.3h0M589.9 678.7h0M598.3 670.7h0M596.4 698.1h0M620.9 616.2h0M611.4 640.2h0M616.5 654.9h0M599.0 693.3h0M581.6 678.8h0M607.1 708.1h0M598.6 681.7h0M599.1 697.6h0M606.2 651.0h0M573.5 655.1h0M632.8 700.1h0M598.8 710.0h0M603.4 685.8h0M561.5 694.0h0M602.1 720.9h0M596.8 690.7h0M601.9 694.7h0M581.8 613.0h0M608.2 666.1h0M566.3 657.9h0M610.1 676.9h0M622.8 646.2h0M574.3 679.3h0M561.8 603.4h0M571.5 677.0h0M585.1 676.7h0M605.7 706.1h0M583.2 692.1h0M622.4 621.3h0M586.1 654.4h0M580.9 689.0h0M561.0 696.7h0M598.5 687.9h0M603.7 660.7h0M597.3 693.8h0M624.1 683.5h0M562.5 680.2h0M601.0 688.5h0M597.6 663.8h0M558.9 701.7h0M610.8 699.7h0M566.7 721.5h0M600.6 641.6h0M633.2 660.4h0M619.8 686.9h0M616.4 644.7h0M575.9 681.3h0M604.9 683.3h0M605.9 690.5h0M565.8 699.8h0M634.2 601.3h0M627.5 679.1h0M597.1 669.3h0M595.7 693.8h0M597.9 675.1h0M602.5 698.0h0M588.9 599.6h0M552.7 699.1h0M611.0 678.8h0M618.8 679.9h0M610.4 695.8h0M613.2 668.8h0M595.1 669.2h0M604.1 651.8h0M614.1 718.4h0M606.7 691.1h0M574.5 690.9h0M583.3 614.4h0M607.0 674.1h0M595.4 674.0h0M591.6 656.2h0M602.4 675.2h0M569.8 675.8h0M600.7 650.1h0M616.6 607.0h0M603.9 659.4h0M614.4 620.0h0M559.3 688.3h0M559.9 695.6h0M599.8 682.3h0M599.0 680.2h0M608.7 637.8h0M564.2 690.4h0M581.6 674.1h0M604.0 617.5h0M604.9 604.0h0M598.0 665.6h0M579.1 681.4h0M596.1 712.5h0M570.6 689.3h0M613.6 658.1h0M551.2 712.6h0M624.7 694.6h0M592.4 635.3h0M602.8 637.6h0M697.4 691.9h0M646.5 660.5h0" stroke="#00c07a" stroke-width="2.0" stroke-linecap="square"/>
<path d="M609.4 593.8h0M613.6 591.6h0M584.6 616.2h0M594.5 550.5h0M598.1 587.7h0M612.6 616.9h0M588.4 607.6h0M576.9 610.9h0M600.0 573.2h0M581.4 606.6h0M585.5 605.1h0M592.2 593.6h0M568.1 664.3h0M591.0 619.1h0M588.7 615.4h0M588.3 616.0h0M588.6 602.3h0M592.2 616.2h0M572.1 609.8h0M579.7 621.6h0M572.4 607.5h0M598.6 655.2h0M591.1 621.7h0M604.5 639.2h0M556.5 670.6h0M604.7 643.5h0M612.8 591.2h0M578.4 672.5h0M609.9 596.2h0M577.6 612.8h0M590.3 614.1h0M571.7 616.2h0M582.9 627.7h0M587.7 596.4h0M586.5 599.1h0M590.7 622.3h0M582.4 599.8h0M609.6 669.7h0M585.5 616.9h0M602.7 608.3h0M589.8 615.7h0M558.6 706.3h0M622.1 610.3h0M587.8 587.1h0M604.7 598.7h0M610.4 588.7h0M607.4 587.2h0M565.2 660.5h0M613.4 652.2h0M592.4 601.7h0M603.0 644.0h0M585.8 615.7h0M604.8 606.8h0M570.4 633.7h0M621.0 646.0h0M603.3 667.6h0M604.0 609.7h0M594.5 600.2h0M577.6 680.7h0M595.5 613.9h0M599.5 634.3h0M604.7 618.0h0M604.6 655.2h0M609.7 686.7h0M600.1 628.4h0M595.7 628.6h0M580.5 617.5h0M584.9 611.9h0M588.0 638.7h0M602.6 618.3h0M623.1 605.3h0M582.5 611.5h0M600.4 608.3h0M650.7 626.0h0M569.8 618.6h0M606.9 667.7h0M618.6 645.9h0M595.4 609.3h0M589.8 621.1h0M582.1 589.2h0M569.3 643.4h0M600.1 633.1h0M561.4 631.5h0M607.6 631.4h0M595.8 614.1h0M615.4 597.9h0M603.3 628.4h0M593.5 657.9h0M578.1 603.4h0M587.0 634.2h0M630.4 529.5h0M557.7 668.1h0M609.2 709.1h0M598.8 665.8h0M595.7 566.7h0M609.1 636.9h0M587.6 603.0h0M583.2 598.3h0M574.4 636.2h0M611.2 658.2h0M561.5 661.6h0M606.1 616.6h0M601.9 697.3h0M605.4 603.6h0M567.0 655.8h0M579.7 634.6h0M600.7 623.1h0M556.7 660.3h0M589.4 590.5h0M590.3 607.3h0M577.7 613.1h0M575.0 573.6h0M599.1 651.9h0M561.7 635.1h0M601.1 645.4h0M576.6 585.0h0" stroke="#00c07a" stroke-width="2.5" stroke-linecap="square"/>
<path d="M580.3 606.6h0M640.1 579.2h0M593.1 613.5h0M608.5 642.0h0M586.2 540.9h0M625.6 572.9h0M578.1 603.7h0M587.9 549.4h0M643.9 593.0h0M606.4 599.4h0M614.0 600.9h0M607.6 528.2h0M625.1 548.6h0M586.1 570.0h0M606.7 566.9h0M594.4 613.8h0M577.6 566.4h0M576.1 585.7h0M598.2 616.5h0M594.9 533.6h0M592.7 595.0h0M624.9 558.4h0M597.3 549.5h0M609.7 586.7h0M579.8 603.4h0M593.8 620.1h0M607.2 547.4h0M591.4 574.8h0M584.6 587.0h0M596.5 578.0h0M617.2 604.1h0M579.4 590.2h0M601.4 627.1h0M590.3 573.1h0M597.6 602.7h0M583.9 604.9h0M621.2 583.2h0M557.2 651.5h0M614.6 587.4h0M590.7 604.2h0M599.6 599.9h0M637.1 602.7h0M585.9 610.3h0M577.0 609.7h0M570.3 607.3h0M651.7 601.7h0M608.4 581.6h0M568.5 618.2h0M622.4 559.3h0M584.8 605.9h0M555.2 662.8h0M576.1 592.6h0M614.6 561.7h0M606.8 612.8h0M578.2 563.5h0M631.5 521.7h0M576.5 546.2h0M576.6 567.3h0M597.5 604.1h0M588.1 519.5h0M610.3 585.5h0M576.1 581.7h0M594.2 555.7h0M601.8 563.3h0M622.0 602.5h0M582.2 602.0h0M594.1 607.0h0M625.0 558.7h0M610.7 634.6h0M583.8 599.4h0M576.4 582.5h0M577.4 582.3h0M610.1 596.0h0M613.5 643.2h0M586.1 572.8h0M603.6 565.2h0M611.6 617.3h0M593.6 598.7h0M598.7 634.5h0M582.9 546.0h0M599.6 577.1h0M605.5 513.7h0M612.7 526.8h0M615.5 577.9h0M648.6 569.4h0M667.9 552.8h0M643.8 593.1h0" stroke="#00c07a" stroke-width="3.0" stroke-linecap="square"/>
<path d="M578.7 552.6h0M613.6 521.4h0M611.0 509.3h0M615.5 535.9h0M614.8 522.3h0M602.2 525.6h0M584.3 544.2h0M622.5 536.5h0M587.0 599.9h0M599.8 579.1h0M587.4 513.4h0M636.2 531.1h0M607.5 550.4h0M593.1 603.7h0M588.2 538.8h0M604.4 543.0h0M597.5 514.2h0M584.0 532.1h0M593.5 558.5h0M598.6 579.5h0M590.7 524.0h0" stroke="#00c07a" stroke-width="3.5" stroke-linecap="square"/>
<path d="M625.2 506.9h0M592.3 595.2h0M615.3 507.2h0M604.2 519.5h0M625.1 524.6h0M624.2 548.5h0M629.5 516.8h0M586.3 541.9h0" stroke="#00c07a" stroke-width="4.0" stroke-linecap="square"/>
<path d="M620.4 695.2h0M612.0 655.3h0M597.5 702.1h0M601.6 713.3h0M597.7 706.3h0M563.2 621.7h0M610.6 657.0h0M598.7 672.8h0M595.9 699.7h0M605.6 698.4h0M602.8 709.2h0M608.4 668.0h0M608.6 721.5h0M618.7 699.9h0M610.0 714.2h0M600.7 692.7h0M611.0 653.9h0M611.6 678.1h0M632.8 708.0h0M618.3 698.5h0M597.4 722.8h0M606.0 691.3h0M595.5 706.2h0M595.7 723.5h0M608.5 657.1h0M599.3 693.2h0M599.6 650.4h0M600.1 716.4h0M609.1 677.5h0M603.4 705.8h0M597.9 692.3h0M621.1 664.0h0M597.6 715.4h0M596.0 709.6h0M608.1 679.8h0M596.8 687.4h0M604.8 716.2h0M600.0 707.3h0M608.3 692.2h0M598.9 699.5h0M601.6 695.2h0M602.6 690.3h0M602.0 687.4h0M609.6 681.0h0M602.8 696.5h0M603.0 708.8h0M599.6 673.9h0M545.6 710.9h0M606.2 705.5h0M599.6 718.4h0M596.4 699.1h0M611.4 695.8h0M596.5 713.1h0M600.0 719.0h0M604.6 681.2h0M596.5 690.8h0M611.8 694.5h0M608.3 690.5h0M618.6 701.4h0M597.2 684.8h0M610.4 703.9h0M603.3 688.8h0M604.5 697.7h0M597.4 686.5h0M599.1 660.3h0M610.1 667.3h0M599.9 678.0h0M597.0 698.5h0M614.0 679.9h0M609.7 689.0h0M600.8 711.8h0M615.3 695.1h0M597.2 703.0h0M599.9 668.8h0M596.6 677.3h0M601.2 686.9h0M604.8 690.9h0M601.5 648.2h0M598.4 655.2h0M603.4 684.4h0M604.2 696.9h0M597.1 717.1h0M638.2 680.9h0M611.3 678.8h0M600.0 642.8h0M607.5 713.1h0M605.6 674.9h0M609.0 720.5h0M611.1 702.3h0M604.5 681.4h0M598.7 662.8h0M611.5 653.1h0M609.2 659.7h0M595.8 717.7h0M609.7 702.4h0M609.1 690.7h0M597.9 708.3h0M609.1 648.4h0" stroke="#00a500" stroke-width="1.5" stroke-linecap="square"/>
<path d="M585.6 583.4h0M600.5 696.4h0M618.4 683.0h0M616.4 680.9h0M617.1 692.4h0M599.9 688.3h0M630.2 651.3h0M606.2 678.6h0M601.8 637.6h0M595.4 715.2h0M615.5 654.6h0M605.4 682.6h0M627.4 706.0h0M623.5 664.3h0M627.9 703.7h0M616.2 637.1h0M598.0 690.1h0M603.5 668.7h0M561.2 623.4h0M626.7 669.7h0M622.3 642.1h0M627.7 689.6h0M607.1 717.7h0M602.7 683.5h0M599.2 706.0h0M604.2 614.3h0M619.7 692.4h0M597.3 704.2h0M602.5 614.2h0M596.6 618.4h0M624.0 657.1h0M613.3 646.2h0M641.3 636.5h0M597.3 673.3h0M595.4 685.7h0M600.7 660.9h0M596.1 694.9h0M595.2 696.3h0M597.8 701.9h0M623.0 677.6h0M602.6 717.1h0M604.8 665.9h0M593.9 619.9h0M611.0 678.5h0M615.7 667.0h0M593.0 603.6h0M606.6 669.8h0M594.7 703.3h0M593.1 618.0h0M607.8 687.3h0M601.4 678.8h0M604.8 594.2h0M605.8 686.0h0M607.4 662.1h0M597.6 587.4h0M607.4 661.2h0M621.6 635.3h0M616.7 654.7h0M611.2 652.1h0M604.5 652.4h0M558.1 645.3h0M605.7 664.9h0M600.6 694.0h0M595.4 703.4h0M620.5 711.4h0M604.6 682.4h0M570.9 617.4h0M611.5 673.8h0M604.0 696.4h0M608.8 692.1h0M598.2 692.4h0M604.2 618.0h0M616.8 651.9h0M595.6 696.4h0M599.3 722.2h0M600.2 704.8h0M608.5 684.6h0M595.8 631.1h0M663.3 654.9h0M605.3 678.0h0M598.3 678.9h0M585.7 583.2h0M609.0 666.5h0M596.4 713.0h0M608.1 702.6h0M601.5 695.0h0M597.0 720.2h0M613.2 616.2h0M629.8 632.6h0M613.8 661.5h0M598.6 658.0h0M597.9 683.3h0M628.1 680.9h0M622.2 653.5h0M609.1 628.8h0M612.6 621.7h0M605.0 625.5h0M611.7 703.9h0M613.9 705.0h0M605.6 698.7h0M612.0 626.2h0M575.8 585.2h0M600.8 689.1h0M600.6 645.4h0M570.3 619.8h0M575.6 579.6h0M628.3 693.9h0M616.5 609.6h0M661.5 597.9h0M604.4 647.6h0M569.8 589.2h0M626.2 647.8h0M598.6 715.9h0M594.9 630.2h0M595.5 709.1h0M601.2 682.7h0M609.0 695.4h0M601.2 624.0h0M598.1 704.0h0M598.4 704.2h0M610.3 678.7h0M598.1 699.4h0M610.5 640.3h0M570.6 617.7h0M608.1 624.6h0M581.4 612.2h0M608.9 649.6h0M601.8 692.0h0M604.5 619.8h0M602.3 711.0h0M598.5 702.1h0M603.7 632.3h0" stroke="#00a500" stroke-width="2.0" stroke-linecap="square"/>
<path d="M598.1 622.1h0M577.0 602.7h0M577.4 591.2h0M572.1 602.5h0M621.7 656.9h0M596.0 608.7h0M576.0 568.2h0M592.8 617.3h0M616.9 675.9h0M584.1 612.3h0M604.2 610.8h0M598.8 590.8h0M628.9 678.1h0M605.3 661.8h0M571.7 603.9h0M604.7 629.5h0M629.3 660.7h0M611.0 586.2h0M602.3 655.0h0M618.9 587.7h0M613.5 586.4h0M605.0 576.0h0M585.5 569.5h0M579.2 618.2h0M622.2 605.4h0M597.0 565.6h0M604.4 594.0h0M578.7 613.1h0M581.3 602.1h0M590.1 595.6h0M578.3 591.2h0M604.7 686.5h0M586.9 617.4h0M613.1 590.0h0M579.8 604.6h0M625.1 632.1h0M598.4 597.8h0M613.4 609.9h0M610.8 639.4h0M601.8 641.4h0M601.8 666.0h0M585.5 617.8h0M570.9 616.5h0M584.2 592.4h0M604.7 630.3h0M628.5 652.7h0M588.9 621.2h0M608.8 669.3h0M584.5 588.5h0M588.6 616.8h0M604.5 632.0h0M611.8 576.7h0M582.6 600.8h0M610.3 654.3h0M565.2 614.9h0M599.4 603.0h0M632.7 630.1h0M606.5 628.6h0M602.3 582.2h0M617.4 587.8h0M607.7 648.9h0M606.6 608.2h0M608.4 644.4h0M578.7 604.4h0M587.8 596.6h0M676.5 590.3h0M598.9 615.5h0M662.5 575.6h0M572.2 611.1h0M589.5 620.5h0M605.3 623.4h0M600.7 605.3h0M616.3 606.4h0M609.1 662.0h0M633.9 575.8h0M598.0 618.1h0M629.0 580.2h0M633.4 621.1h0M582.7 614.7h0M624.8 620.3h0M607.8 637.8h0M581.0 605.5h0M582.6 567.0h0M597.1 635.6h0M594.5 607.5h0M630.6 543.3h0M643.6 629.7h0M587.7 612.1h0M592.7 594.8h0M613.6 565.3h0M625.8 584.0h0M613.5 696.8h0M572.9 597.4h0M604.2 649.2h0M600.6 613.8h0M585.6 566.4h0M580.0 611.8h0M618.4 651.6h0M596.6 700.3h0M599.1 620.9h0M584.8 613.1h0M596.2 597.8h0M606.4 600.4h0M608.3 573.9h0M581.6 595.0h0M597.4 620.4h0M636.9 590.0h0M600.6 677.6h0M609.7 630.0h0M604.4 665.6h0M607.3 639.6h0M578.1 597.8h0M621.5 627.7h0M611.9 629.7h0M615.6 659.5h0M583.0 606.3h0M590.7 592.1h0M616.2 573.2h0M574.1 583.3h0M632.5 627.5h0M602.0 695.5h0M602.3 600.2h0M578.1 617.5h0M599.6 653.3h0M562.9 632.5h0M570.6 610.2h0M598.1 566.8h0M587.9 608.1h0M593.3 612.5h0M585.2 618.9h0M612.3 658.3h0M643.3 604.8h0M628.8 616.7h0M578.7 616.3h0M567.9 619.7h0M573.6 587.8h0M600.7 606.4h0M714.1 545.7h0" stroke="#00a500" stroke-width="2.5" stroke-linecap="square"/>
<path d="M581.1 597.2h0M606.1 540.4h0M601.4 614.0h0M588.1 583.5h0M620.6 680.4h0M588.6 581.9h0M598.8 560.0h0M582.9 609.9h0M584.5 595.4h0M602.5 568.5h0M597.1 566.9h0M583.0 591.8h0M620.5 506.1h0M620.2 566.4h0M581.3 576.0h0M588.8 524.4h0M595.4 568.2h0M656.5 563.6h0M593.8 609.2h0M623.4 552.1h0M588.9 615.2h0M632.8 565.9h0M565.3 622.9h0M611.7 578.9h0M617.9 555.7h0M621.6 576.4h0M588.5 545.9h0M587.0 608.3h0M608.6 589.7h0M619.2 604.1h0M599.4 606.3h0M620.1 609.0h0M582.7 572.0h0M594.8 546.9h0M591.1 595.6h0M629.6 630.6h0M587.0 580.1h0M603.4 551.9h0M661.8 583.7h0M599.7 571.7h0M611.6 533.9h0M573.7 588.9h0M579.7 604.3h0M593.5 624.0h0M629.5 601.8h0M602.4 588.6h0M599.7 576.8h0M624.0 596.7h0M576.0 581.7h0M614.4 560.3h0M596.6 593.1h0M633.2 516.6h0M601.4 584.9h0M614.9 624.7h0M587.1 594.9h0M622.4 537.3h0M601.3 558.1h0M585.6 604.0h0M609.6 552.1h0M603.9 582.0h0M603.7 578.4h0M620.6 570.8h0M627.6 576.8h0M585.9 617.7h0M611.9 556.6h0M675.4 608.7h0M570.4 614.6h0M585.8 612.2h0M584.7 609.0h0M640.7 539.4h0M605.4 578.3h0M598.4 570.5h0M595.6 620.6h0M568.4 596.6h0M589.8 606.6h0M698.9 569.2h0M633.8 584.2h0M636.3 547.0h0" stroke="#00a500" stroke-width="3.0" stroke-linecap="square"/>
<path d="M603.5 577.2h0M608.6 509.8h0M579.2 573.8h0M602.4 572.2h0M696.6 514.8h0M617.9 508.5h0M677.5 539.4h0M576.1 560.2h0M583.9 557.1h0M598.8 544.6h0M628.2 532.4h0M592.8 597.7h0M581.8 598.9h0M593.2 526.1h0M601.4 545.0h0M587.5 565.8h0M596.3 548.6h0M602.4 547.8h0M596.6 555.7h0M588.9 559.7h0M603.5 552.3h0M581.8 560.9h0M604.4 550.0h0M608.0 572.6h0M588.2 584.2h0M591.0 594.1h0M619.1 556.9h0M616.3 532.8h0M628.1 528.8h0M579.6 539.6h0M614.9 530.6h0M607.9 564.3h0M620.8 572.3h0M580.5 608.3h0M665.8 553.2h0" stroke="#00a500" stroke-width="3.5" stroke-linecap="square"/>
<path d="M641.6 535.3h0M601.8 517.8h0M621.3 512.6h0M598.1 509.4h0M598.2 546.1h0M592.6 514.7h0M607.2 549.5h0M580.8 519.5h0M680.6 531.5h0" stroke="#00a500" stroke-width="4.0" stroke-linecap="square"/>
</g>
<clipPath id="sc2"><rect x="864.7" y="440" width="230" height="288.6"/></clipPath>
<g clip-path="url(#sc2)">
<path d="M873.5 729.1 C865.58 726.25 874.75 716.85 875.5 712 C876.25 707.15 877.08 704.5 878 700 C878.92 695.5 879.83 690 881 685 C882.17 680 883.67 675 885 670 C886.33 665 887.33 659.83 889 655 C890.67 650.17 892.83 644.83 895 641 C897.17 637.17 899.5 633.83 902 632 C904.5 630.17 907.67 629.67 910 630 C912.33 630.33 914.5 631.5 916 634 C917.5 636.5 918.33 640.67 919 645 C919.67 649.33 919.83 654.17 920 660 C920.17 665.83 919.83 673.33 920 680 C920.17 686.67 920.5 691.82 921 700 C921.5 708.18 930.92 724.25 923 729.1 C915.08 733.95 881.42 731.95 873.5 729.1Z" fill="#00a500"/>
<path d="M949.1 703.1h0M944.2 716.1h0M885.7 720.2h0M924.6 712.4h0M933.7 699.0h0M934.9 709.5h0M925.6 695.2h0M888.1 719.6h0M911.8 728.0h0M922.9 721.8h0M923.6 705.2h0M893.6 717.8h0M897.7 681.9h0M924.6 677.7h0M914.5 713.5h0M927.5 696.0h0M924.6 708.7h0M937.4 715.6h0M935.5 700.0h0M925.9 720.0h0M911.4 709.8h0M927.6 720.6h0M931.7 695.1h0M917.8 710.5h0M897.2 719.0h0M885.8 725.4h0M895.4 676.0h0M913.2 704.2h0M915.8 695.4h0M926.3 725.5h0M882.7 718.1h0M923.9 698.3h0M896.5 719.9h0M926.7 709.5h0M914.1 700.6h0M899.5 707.6h0M900.0 690.9h0M921.3 697.2h0M881.0 721.8h0M934.6 697.0h0M924.7 678.4h0M904.3 720.2h0M912.1 704.5h0M889.2 721.5h0M938.7 715.6h0M927.8 681.0h0M917.1 688.6h0M924.6 716.9h0M941.0 685.0h0M958.5 725.4h0M925.9 663.7h0M927.6 716.8h0M928.2 685.3h0M930.3 701.2h0M926.4 677.8h0M943.8 717.9h0M937.6 682.7h0M893.2 724.6h0M925.5 716.2h0M918.4 705.8h0M921.4 698.0h0M929.2 722.3h0M893.7 721.8h0M945.1 718.0h0M888.6 710.1h0M934.7 699.7h0M934.5 685.5h0M917.0 715.0h0M922.8 710.5h0M883.6 693.5h0M935.5 703.8h0M926.8 697.2h0M911.7 694.7h0M925.4 704.8h0M922.2 667.3h0M886.1 709.3h0M946.9 717.2h0M906.4 693.9h0M889.2 723.9h0M923.5 710.7h0M928.9 713.9h0M930.3 710.4h0M922.6 700.1h0M938.5 720.9h0M918.1 702.8h0M901.5 713.2h0M943.1 682.9h0M921.3 694.5h0M899.6 706.7h0M956.0 658.5h0M931.8 703.7h0M924.2 703.0h0M923.1 702.6h0M923.0 678.2h0M926.3 678.0h0M907.7 692.8h0M892.7 689.9h0M948.9 661.0h0M932.4 680.0h0M953.8 723.9h0M904.0 725.4h0M952.2 692.7h0M931.8 684.5h0M909.7 627.7h0M910.2 678.3h0M930.1 724.0h0M905.0 720.0h0M890.0 720.5h0M923.5 721.6h0M926.7 724.8h0M890.1 714.5h0M931.1 680.7h0M928.0 713.8h0M926.0 701.5h0M896.5 721.1h0M936.9 647.1h0M910.0 722.7h0M909.2 698.9h0M924.6 684.0h0M933.4 699.4h0M890.1 724.2h0M956.5 713.9h0M904.0 702.2h0M944.6 691.7h0M941.2 711.9h0M957.1 673.1h0M925.0 683.0h0M925.0 707.5h0M956.7 677.8h0M898.7 728.2h0M940.7 707.4h0M924.1 712.7h0M945.6 705.8h0M921.4 657.4h0M941.7 648.6h0M923.4 684.9h0M924.6 687.6h0M899.3 704.7h0M887.0 714.0h0M899.9 692.1h0M901.5 706.2h0M936.1 661.8h0" stroke="#00ff78" stroke-width="1.5" stroke-linecap="square"/>
<path d="M926.3 662.5h0M925.3 700.7h0M895.7 697.4h0M944.6 663.3h0M921.6 704.7h0M930.1 646.4h0M927.8 603.9h0M920.3 653.3h0M885.4 713.0h0M960.2 659.1h0M927.6 700.9h0M909.5 607.0h0M946.5 709.4h0M917.0 677.5h0M972.5 655.4h0M937.9 693.9h0M907.0 667.7h0M927.8 678.1h0M946.2 695.1h0M934.8 658.8h0M901.8 696.3h0M924.9 707.4h0M901.8 631.2h0M932.2 656.5h0M937.5 662.9h0M931.2 685.3h0M945.8 695.0h0M921.2 697.9h0M927.0 679.9h0M931.0 696.0h0M927.6 702.0h0M941.3 701.0h0M926.9 683.1h0M930.5 663.6h0M883.7 708.9h0M928.8 708.7h0M894.6 632.0h0M909.7 628.2h0M891.7 654.9h0M940.8 688.0h0M921.9 663.5h0M953.2 686.8h0M896.1 629.6h0M924.1 697.4h0M925.3 629.6h0M935.8 692.9h0M924.2 659.4h0M921.2 668.5h0M928.1 706.7h0M922.5 714.4h0M941.4 633.6h0M950.2 650.3h0M892.5 696.8h0M937.3 621.0h0M934.2 630.3h0M929.1 708.2h0M899.6 718.1h0M893.9 698.4h0M889.5 667.8h0M917.4 635.7h0M943.2 658.5h0M906.5 626.5h0M913.1 690.1h0M927.0 660.6h0M968.8 587.6h0M941.3 724.8h0M943.2 630.2h0M918.4 605.1h0M931.6 709.1h0M921.9 654.4h0M919.3 681.4h0M929.0 686.5h0M928.8 686.6h0M923.5 702.5h0M938.9 653.0h0M907.1 626.2h0M933.5 640.9h0M929.4 626.8h0M932.5 726.9h0M936.9 632.2h0M943.9 678.5h0M924.3 647.6h0M935.6 612.6h0M909.3 634.6h0M917.8 628.6h0M938.1 724.0h0M931.2 640.9h0M930.5 670.2h0M917.3 695.9h0M904.7 714.9h0M925.4 661.7h0M908.9 612.0h0M923.6 696.5h0M912.6 690.1h0M954.8 671.3h0M889.6 724.2h0M924.7 682.4h0M904.1 688.1h0M932.1 610.9h0M952.3 665.7h0M919.8 646.2h0M949.2 690.6h0M932.4 658.7h0M935.6 689.1h0M922.6 692.6h0M928.3 704.7h0M948.1 663.7h0M925.2 652.4h0M920.4 706.5h0M959.4 662.7h0M912.7 668.0h0M950.7 637.4h0M926.7 651.6h0M946.5 647.3h0M905.5 715.0h0M933.2 668.2h0M927.0 718.5h0M926.8 674.5h0M920.8 643.0h0M936.1 642.9h0M925.2 576.8h0M891.0 724.3h0M929.9 607.3h0M946.9 685.0h0M921.1 719.4h0M932.6 691.7h0M889.9 682.5h0M924.2 711.4h0M895.4 715.9h0M933.4 651.5h0M929.5 696.1h0M920.6 683.3h0M888.9 696.2h0M884.7 701.2h0M892.5 703.3h0M894.9 636.1h0M945.7 645.6h0M946.5 702.3h0M931.3 711.9h0M922.9 657.1h0M921.8 650.6h0M953.5 676.0h0M902.4 642.4h0M912.9 707.2h0M931.5 669.6h0M928.2 689.0h0M900.1 716.8h0M951.3 659.5h0M939.8 691.7h0M924.2 683.6h0M935.2 664.5h0M932.0 696.7h0M955.4 695.8h0M926.3 691.4h0M906.2 676.8h0M918.9 646.9h0M938.8 660.8h0M915.0 621.0h0M923.1 681.1h0M923.0 714.6h0M923.6 676.9h0M886.7 679.9h0M929.6 638.3h0M905.1 690.1h0M930.4 686.5h0M938.0 698.6h0M902.5 610.6h0M940.2 689.4h0M933.3 649.1h0M929.3 637.6h0M917.4 634.1h0M954.5 612.1h0M908.3 711.8h0M890.0 646.4h0M1065.5 636.8h0M924.0 665.3h0M1064.9 693.3h0" stroke="#00ff78" stroke-width="2.0" stroke-linecap="square"/>
<path d="M932.5 693.9h0M927.1 650.5h0M944.4 668.3h0M892.0 633.0h0M912.4 603.2h0M947.6 610.1h0M936.0 659.5h0M974.9 648.2h0M931.9 651.2h0M934.4 606.5h0M926.7 618.8h0M935.4 585.4h0M927.5 629.9h0M935.2 645.4h0M945.5 604.2h0M928.4 671.9h0M928.6 603.1h0M929.6 638.1h0M913.3 714.8h0M902.6 692.1h0M927.9 622.2h0M927.0 659.7h0M938.6 587.4h0M917.1 607.8h0M908.0 628.2h0M931.4 586.5h0M925.8 662.4h0M944.1 559.8h0M919.3 619.8h0M911.1 600.6h0M950.4 700.8h0M908.8 626.3h0M924.5 677.5h0M923.8 669.6h0M890.2 655.8h0M931.9 647.1h0M928.7 657.7h0M908.7 620.2h0M921.8 651.6h0M912.0 629.8h0M899.2 705.6h0M932.3 628.9h0M921.1 650.5h0M937.7 701.1h0M927.9 618.3h0M955.2 664.5h0M947.5 666.1h0M936.7 649.7h0M932.1 648.0h0M911.4 624.5h0M914.2 630.1h0M934.7 609.9h0M947.0 642.8h0M944.9 665.9h0M900.0 665.6h0M912.5 700.1h0M915.0 628.4h0M933.6 673.1h0M949.9 608.2h0M926.7 619.2h0M901.5 653.1h0M909.4 592.5h0M913.9 606.1h0M928.2 669.1h0M950.0 606.8h0M948.5 624.2h0M925.5 705.7h0M920.8 633.6h0M932.6 639.5h0M927.2 687.6h0M913.0 657.0h0M943.9 664.4h0M948.6 655.8h0M936.1 641.7h0M917.8 634.5h0M957.5 629.3h0M904.7 660.6h0M946.5 683.3h0M978.0 557.3h0M910.9 603.9h0M915.1 615.8h0M918.1 636.1h0M926.8 644.6h0M907.6 619.7h0M919.7 590.3h0M935.2 655.5h0M920.0 570.9h0M950.0 639.6h0M951.0 557.7h0M947.1 673.6h0M940.5 660.8h0M958.9 672.9h0M928.2 672.6h0M914.1 638.7h0M932.7 609.2h0M918.1 630.0h0M927.7 696.7h0M922.3 622.5h0M901.0 618.8h0M935.0 667.7h0M933.8 649.2h0M928.7 681.7h0M930.8 634.6h0M930.6 646.6h0M939.8 566.3h0M898.6 631.1h0M920.0 634.6h0M923.1 647.9h0M913.2 595.6h0M929.5 621.0h0M958.4 647.1h0M910.8 677.6h0M926.3 660.7h0M934.2 617.5h0M911.5 615.3h0M927.3 622.7h0M921.6 659.2h0M930.4 641.4h0M940.8 627.5h0M950.4 650.7h0M932.5 600.7h0M931.3 622.2h0M940.3 683.0h0M908.2 614.1h0M1021.7 642.9h0M938.8 567.4h0M887.7 694.8h0M936.0 621.3h0M939.8 680.8h0M941.1 719.4h0M927.9 691.9h0M917.8 619.7h0M917.4 673.3h0M931.5 623.7h0M927.0 611.8h0M915.0 629.0h0M930.0 699.9h0M899.8 634.0h0M921.3 701.6h0M935.1 608.2h0M944.7 603.2h0M926.5 671.9h0M934.8 657.4h0M924.1 695.0h0" stroke="#00ff78" stroke-width="2.5" stroke-linecap="square"/>
<path d="M920.4 557.6h0M944.4 639.5h0M952.0 530.5h0M944.6 556.0h0M951.4 570.9h0M980.7 614.7h0M971.9 582.9h0M928.1 562.1h0M942.3 618.1h0M961.4 551.5h0M928.7 606.0h0M915.8 613.9h0M916.8 609.6h0M925.9 633.8h0M925.0 555.3h0M924.7 572.5h0M937.3 580.2h0M922.5 614.8h0M899.8 603.8h0M911.0 618.6h0M922.4 597.4h0M932.9 621.6h0M938.0 593.6h0M928.3 605.3h0M935.6 598.5h0M930.5 579.0h0M933.6 597.9h0M933.6 559.2h0M971.9 570.2h0M925.2 537.1h0M914.1 618.2h0M978.0 530.8h0M933.6 585.1h0M925.0 573.6h0M921.7 612.7h0M937.3 627.6h0M921.6 664.3h0M931.9 655.2h0M900.9 622.4h0M902.6 599.0h0M921.0 613.4h0M960.2 564.9h0M902.4 591.2h0M928.9 614.8h0M956.9 560.9h0M919.2 641.8h0M971.1 590.4h0M921.3 651.0h0M965.0 625.1h0M938.5 546.9h0M922.7 588.3h0M917.5 600.3h0M893.4 643.3h0M916.2 630.0h0M950.1 575.5h0M936.7 540.3h0M918.4 549.2h0M912.4 565.7h0M923.0 662.5h0M918.0 591.0h0M923.3 573.5h0M923.5 631.4h0M929.4 610.4h0M920.3 619.7h0M917.3 609.1h0M936.9 588.4h0M921.6 602.3h0M904.0 593.9h0M907.1 618.0h0M919.1 562.8h0M926.6 661.4h0M940.4 642.7h0M915.8 610.6h0M942.5 648.3h0M923.4 583.3h0M920.3 657.1h0M1003.8 554.0h0" stroke="#00ff78" stroke-width="3.0" stroke-linecap="square"/>
<path d="M955.6 529.0h0M914.4 557.8h0M911.3 573.5h0M936.4 526.3h0M920.7 527.5h0M949.5 571.2h0M951.7 582.6h0M930.8 554.7h0M948.9 577.2h0M926.0 609.0h0M948.9 589.5h0M932.0 538.4h0M906.1 554.2h0M946.8 536.7h0M919.5 600.3h0M958.4 526.6h0M978.6 546.7h0M1003.9 561.6h0M924.0 605.2h0M925.4 544.7h0M915.1 537.1h0M964.7 526.0h0M950.3 585.9h0M932.0 580.7h0M954.7 556.0h0M937.3 554.2h0M929.8 597.3h0M943.5 536.3h0M910.5 586.2h0M906.4 547.3h0M949.8 580.2h0M1000.0 573.4h0" stroke="#00ff78" stroke-width="3.5" stroke-linecap="square"/>
<path d="M920.2 530.8h0M980.1 547.4h0M950.7 518.1h0M929.7 555.0h0" stroke="#00ff78" stroke-width="4.0" stroke-linecap="square"/>
<path d="M899.4 697.7h0M935.0 706.1h0M887.6 724.3h0M928.0 722.1h0M899.3 698.1h0M925.1 659.3h0M939.7 684.0h0M913.9 714.5h0M930.7 722.9h0M919.5 716.7h0M907.3 712.2h0M923.2 719.2h0M897.0 702.0h0M909.3 686.1h0M925.3 703.9h0M891.5 719.2h0M906.0 699.3h0M922.7 669.2h0M904.9 702.6h0M922.4 695.1h0M897.3 704.2h0M925.4 685.0h0M915.1 703.2h0M937.8 709.1h0M906.8 625.7h0M923.5 698.6h0M938.4 699.5h0M935.2 726.5h0M946.6 699.0h0M909.4 722.6h0M907.5 703.1h0M908.1 713.2h0M902.3 687.5h0M919.4 698.8h0M917.5 684.4h0M933.2 701.4h0M927.6 702.9h0M936.3 700.1h0M935.9 719.8h0M923.5 701.5h0M944.4 658.1h0M926.1 675.0h0M922.2 669.8h0M926.7 690.5h0M936.3 659.1h0M922.9 721.4h0M922.2 700.8h0M923.7 721.8h0M893.6 710.3h0M936.1 684.5h0M937.0 708.1h0M931.2 682.8h0M910.2 700.2h0M910.1 705.4h0M929.4 722.6h0M911.6 714.8h0M921.8 695.5h0M933.7 682.3h0M942.6 688.1h0M925.9 718.9h0M892.3 717.3h0M924.4 728.5h0M942.0 698.9h0M960.0 675.1h0M888.8 708.3h0M894.7 723.0h0M944.7 676.9h0M938.0 653.5h0M929.9 700.4h0M928.1 667.9h0M922.5 684.7h0M925.0 698.6h0M894.5 716.5h0M940.0 700.2h0M931.0 709.9h0M891.7 699.5h0M894.2 717.9h0M910.0 702.8h0M920.5 683.4h0M917.4 726.6h0M891.8 704.9h0M884.8 711.4h0M934.1 686.5h0M948.0 723.1h0M928.3 666.2h0M927.5 678.8h0M942.1 699.5h0M954.9 688.8h0M927.9 724.3h0M924.2 719.0h0M954.7 722.1h0M938.9 708.6h0M953.5 716.6h0M946.8 723.9h0M925.5 707.6h0M924.3 689.0h0M888.9 703.2h0M926.2 706.1h0M926.6 685.5h0M921.0 682.4h0M893.1 718.0h0M898.3 689.1h0M885.1 718.8h0M921.6 651.3h0M924.9 713.7h0M954.5 701.9h0M883.3 716.5h0M923.6 694.9h0M920.6 686.1h0M932.3 712.0h0M925.0 712.1h0M900.5 693.7h0M906.8 663.7h0M917.6 708.4h0M935.6 679.2h0M925.7 690.6h0M882.7 726.1h0M925.8 661.7h0M924.4 676.9h0M950.8 699.1h0M930.8 663.0h0M903.9 630.7h0M928.4 680.6h0M935.7 688.4h0M917.5 720.9h0M897.0 686.5h0M930.7 663.9h0M924.7 717.4h0M907.9 712.1h0M929.8 705.3h0M949.4 724.0h0M907.4 696.7h0M945.4 675.5h0M907.9 713.2h0M943.6 716.9h0M927.2 695.8h0M898.1 666.4h0M929.8 640.2h0M939.1 663.7h0M931.6 702.1h0M935.5 698.3h0M922.8 725.6h0M933.0 696.0h0M948.2 713.9h0M927.8 688.7h0M945.5 679.7h0M948.0 674.9h0M920.9 687.8h0M936.5 659.9h0M923.8 711.8h0M906.7 716.6h0M887.7 701.6h0M941.0 704.3h0M924.6 681.9h0M902.0 722.4h0M948.8 703.3h0M926.3 718.2h0M928.8 642.6h0M882.7 728.5h0M926.8 668.3h0M921.8 707.2h0M933.4 722.3h0M924.3 728.0h0M903.5 678.2h0M917.4 724.3h0M888.4 719.1h0M908.0 696.9h0M900.5 683.7h0M934.8 706.9h0M924.6 685.7h0M933.6 706.2h0M924.1 698.0h0M925.9 695.7h0M923.3 723.9h0M927.0 693.1h0M923.2 694.9h0M924.2 682.7h0M936.6 688.8h0M923.3 700.8h0M924.8 720.9h0M935.0 690.8h0" stroke="#00c07a" stroke-width="1.5" stroke-linecap="square"/>
<path d="M911.7 682.1h0M920.2 663.1h0M894.5 679.3h0M945.8 697.6h0M930.6 680.8h0M956.7 663.1h0M926.4 676.9h0M940.3 687.6h0M922.2 681.7h0M915.3 671.8h0M910.6 613.4h0M922.6 701.9h0M960.1 651.3h0M950.4 654.4h0M921.7 672.2h0M924.5 657.6h0M933.5 709.6h0M917.7 711.3h0M924.6 656.8h0M920.9 694.6h0M887.6 723.7h0M927.0 694.3h0M914.7 626.5h0M925.8 691.1h0M938.3 667.6h0M924.7 669.0h0M969.2 686.9h0M925.4 714.3h0M905.9 629.7h0M939.1 622.2h0M893.4 689.7h0M929.1 695.3h0M908.9 670.0h0M931.4 620.2h0M930.7 652.4h0M907.0 714.1h0M910.4 721.8h0M924.2 676.6h0M915.6 611.6h0M915.8 600.2h0M930.4 664.7h0M890.1 698.2h0M954.5 667.4h0M936.6 681.4h0M922.3 650.2h0M924.6 689.7h0M937.5 678.4h0M940.0 671.3h0M894.6 698.3h0M923.8 692.9h0M931.2 664.1h0M948.0 674.2h0M922.9 716.7h0M903.4 717.5h0M933.1 689.5h0M922.0 694.0h0M929.5 681.6h0M920.8 683.6h0M898.6 706.0h0M951.7 667.6h0M923.2 711.1h0M924.4 651.1h0M924.7 649.5h0M922.1 690.5h0M931.6 669.3h0M938.6 654.9h0M915.3 650.0h0M941.6 637.6h0M941.5 675.2h0M920.0 627.9h0M934.9 687.3h0M906.1 685.8h0M940.2 668.9h0M919.8 634.1h0M958.8 684.4h0M923.8 638.8h0M937.5 627.2h0M932.0 679.2h0M909.3 627.9h0M911.9 663.0h0M923.7 655.9h0M925.7 684.9h0M934.9 635.6h0M927.2 647.5h0M929.2 666.3h0M929.4 666.9h0M923.1 672.1h0M932.6 671.0h0M922.2 696.1h0M960.5 690.2h0M933.4 685.2h0M917.8 625.7h0M945.4 673.6h0M921.4 695.4h0M894.2 681.4h0M916.3 641.3h0M933.3 659.2h0M941.0 676.3h0M935.5 670.3h0M918.6 637.0h0M926.6 688.2h0M938.2 651.9h0M954.8 634.8h0M906.0 658.2h0M923.2 642.6h0M938.2 694.2h0M951.5 635.2h0M926.2 655.3h0M922.6 609.0h0M923.5 655.3h0M896.4 716.7h0M890.8 697.7h0M927.5 639.4h0M902.5 668.2h0M930.8 643.6h0M924.2 646.9h0M922.1 649.4h0M910.0 690.4h0M903.9 677.7h0M930.9 653.9h0M913.8 588.4h0M915.8 632.0h0M893.8 637.1h0M938.4 648.9h0M924.3 714.7h0M937.7 649.0h0M934.8 710.4h0M919.2 582.8h0M921.3 696.4h0M899.0 681.3h0M921.5 666.7h0M922.1 614.6h0M932.8 690.0h0M906.1 683.4h0M901.7 652.9h0M914.5 627.6h0M930.4 649.5h0M909.0 639.9h0M933.2 659.0h0M921.3 666.3h0M935.1 642.7h0M966.1 649.5h0M933.7 616.2h0M918.8 706.5h0M940.6 680.5h0M938.2 668.8h0M926.5 671.5h0M932.0 691.0h0M891.4 714.4h0M895.1 687.1h0M918.0 683.4h0M911.9 627.9h0M941.2 627.1h0M923.0 649.0h0M932.9 664.8h0M959.8 657.5h0M927.8 709.3h0M921.4 683.6h0M926.2 677.5h0M933.8 664.7h0M934.9 709.1h0M947.4 624.3h0M921.1 668.1h0M933.9 668.1h0M935.3 709.3h0M930.9 694.2h0M904.1 646.6h0M913.9 606.6h0M932.5 705.4h0M942.5 704.1h0M945.9 682.8h0M952.6 660.9h0M958.9 607.5h0M1007.7 610.8h0" stroke="#00c07a" stroke-width="2.0" stroke-linecap="square"/>
<path d="M934.6 644.0h0M896.7 676.2h0M906.3 634.8h0M901.7 631.2h0M923.5 642.5h0M930.7 691.2h0M941.6 610.0h0M948.8 670.1h0M923.4 627.5h0M928.6 654.9h0M917.5 606.4h0M929.5 616.7h0M928.8 694.1h0M922.1 620.9h0M920.7 672.4h0M919.5 625.8h0M926.7 651.0h0M909.0 620.8h0M927.0 594.9h0M920.5 600.2h0M893.3 634.1h0M911.4 614.0h0M934.5 606.9h0M918.5 574.4h0M927.5 689.0h0M939.9 630.0h0M916.8 621.3h0M930.1 672.8h0M919.9 655.2h0M924.9 629.0h0M925.2 625.2h0M922.6 669.1h0M933.2 618.4h0M922.9 571.9h0M932.8 615.8h0M927.5 663.1h0M898.0 632.1h0M957.5 691.7h0M913.3 597.7h0M954.7 616.7h0M924.8 638.6h0M939.5 665.0h0M940.6 631.3h0M902.9 627.6h0M918.7 642.3h0M916.8 636.5h0M916.1 629.2h0M927.4 633.4h0M958.7 690.0h0M929.0 628.9h0M935.2 649.4h0M945.5 592.2h0M919.7 641.6h0M933.7 652.3h0M915.3 624.9h0M936.0 711.5h0M946.4 660.8h0M935.4 689.5h0M899.6 603.9h0M924.4 638.8h0M939.3 625.6h0M942.5 589.6h0M935.5 593.4h0M916.7 587.1h0M929.5 634.6h0M890.5 640.1h0M894.6 615.5h0M910.3 607.6h0M932.4 631.8h0M925.1 665.5h0M925.3 645.0h0M935.9 605.2h0M928.6 630.8h0M929.1 668.2h0M935.2 616.6h0M942.2 586.4h0M910.4 620.3h0M928.0 615.9h0M920.4 627.9h0M932.3 659.2h0M938.4 585.8h0M933.2 569.9h0M926.2 672.5h0M906.5 642.6h0M931.7 625.5h0M897.1 614.0h0M887.3 687.9h0M915.6 610.9h0M921.8 669.8h0M930.9 642.4h0M908.2 605.8h0M923.4 578.4h0M924.3 672.1h0M940.5 650.8h0M967.9 612.2h0M979.5 632.3h0M948.8 559.9h0M935.7 659.1h0M908.5 608.7h0M915.6 616.1h0M918.5 637.4h0M903.9 625.9h0M960.3 584.2h0M913.3 620.9h0M964.6 577.3h0M933.9 575.5h0M917.1 629.3h0M937.3 616.3h0M929.2 692.4h0M898.4 658.9h0M931.8 642.6h0M939.9 629.1h0M905.7 680.5h0M906.3 621.4h0M913.0 630.6h0M971.7 617.5h0M930.7 670.4h0M934.0 692.4h0M918.7 607.9h0M919.3 619.5h0M920.1 636.8h0M945.0 659.7h0M933.1 650.7h0M936.0 612.7h0M912.2 700.8h0M948.5 623.5h0M933.5 662.4h0M965.3 639.0h0M904.7 617.2h0M933.7 640.4h0M925.7 645.0h0M930.6 671.4h0M918.7 643.5h0M932.7 693.7h0M911.4 610.4h0M899.1 656.9h0M913.5 617.5h0M893.3 637.3h0M926.5 631.3h0M912.8 612.2h0M919.3 611.0h0M924.1 608.8h0M907.9 619.6h0M950.1 607.6h0M913.1 631.3h0M950.3 665.6h0M918.4 674.0h0M911.3 653.2h0M947.4 632.9h0M951.9 682.0h0M922.3 694.9h0M917.7 635.4h0M931.5 570.9h0M935.8 630.4h0M926.1 632.3h0M904.2 669.7h0M946.7 547.7h0M934.6 589.1h0M931.7 618.7h0M925.0 636.4h0M894.8 635.6h0M931.0 620.9h0M923.8 680.0h0M936.6 668.9h0M924.4 637.3h0M926.0 675.9h0M931.2 630.3h0M927.7 662.6h0M929.8 658.5h0M986.1 613.6h0M934.1 606.6h0" stroke="#00c07a" stroke-width="2.5" stroke-linecap="square"/>
<path d="M952.7 601.8h0M943.1 618.9h0M962.0 568.8h0M909.2 591.9h0M928.9 610.7h0M921.4 605.9h0M943.5 626.1h0M924.8 599.4h0M920.0 578.2h0M936.9 545.5h0M933.7 613.2h0M930.7 576.3h0M923.1 593.6h0M937.4 526.2h0M920.3 571.7h0M913.4 594.3h0M936.4 609.0h0M960.9 536.8h0M929.6 611.0h0M921.2 621.8h0M934.7 620.1h0M941.1 606.0h0M915.4 618.7h0M908.0 629.8h0M924.2 571.0h0M919.7 587.0h0M922.2 587.3h0M982.1 610.0h0M928.7 601.9h0M943.1 562.1h0M933.1 549.0h0M938.5 534.8h0M904.4 578.2h0M914.5 629.9h0M906.7 642.9h0M950.0 576.6h0M940.3 592.8h0M950.6 620.0h0M917.3 610.5h0M914.5 559.3h0M926.2 600.2h0M935.8 571.0h0M955.2 564.7h0M952.9 582.8h0M895.8 623.5h0M912.1 613.2h0M916.3 622.9h0M916.2 561.3h0M929.9 603.3h0M953.0 613.1h0M946.8 594.1h0M955.4 585.1h0M918.3 553.7h0M992.8 591.8h0M917.6 605.6h0M932.5 529.3h0M943.6 609.4h0M915.3 619.9h0M904.2 608.3h0M936.9 656.5h0M933.5 609.4h0M928.0 614.5h0M924.0 608.4h0M903.8 665.5h0M924.8 605.3h0M946.7 585.7h0M929.8 555.7h0M942.8 566.7h0M960.7 609.4h0M927.7 623.1h0M917.5 586.2h0M919.2 569.6h0M919.4 557.7h0M946.3 608.2h0M918.0 619.6h0M913.4 660.3h0M920.7 641.8h0M937.9 630.2h0M919.9 534.4h0M923.8 558.2h0M919.4 608.8h0M897.1 632.4h0M945.9 564.1h0" stroke="#00c07a" stroke-width="3.0" stroke-linecap="square"/>
<path d="M909.0 599.9h0M921.8 522.5h0M930.5 563.2h0M923.9 599.2h0M928.5 584.5h0M969.6 586.6h0M948.5 554.5h0M961.4 524.9h0M972.7 582.7h0M973.7 533.9h0M950.3 580.0h0M932.2 613.8h0M898.5 599.9h0M989.5 513.8h0M920.1 633.2h0M948.3 533.4h0M931.4 612.9h0M953.5 557.5h0M929.9 587.6h0M918.9 576.0h0M974.9 550.4h0M956.3 553.8h0M946.2 576.5h0M927.5 605.5h0M911.1 556.9h0M916.9 544.4h0M912.3 584.8h0M949.1 581.3h0M937.7 558.0h0M916.5 548.8h0M923.5 559.3h0" stroke="#00c07a" stroke-width="3.5" stroke-linecap="square"/>
<path d="M944.4 531.3h0M928.9 517.2h0" stroke="#00c07a" stroke-width="4.0" stroke-linecap="square"/>
<path d="M923.5 700.3h0M931.3 713.2h0M937.1 694.8h0M924.7 659.3h0M924.3 679.9h0M920.9 694.2h0M929.6 722.7h0M926.6 651.4h0M937.0 713.6h0M932.2 692.8h0M920.9 681.7h0M920.4 686.8h0M930.2 715.5h0M923.3 697.6h0M941.9 687.7h0M924.7 705.2h0M922.4 709.3h0M925.3 706.5h0M931.3 684.0h0M921.7 690.9h0M933.5 685.3h0M934.9 656.3h0M928.1 703.7h0M930.9 705.8h0M925.4 683.1h0M921.7 670.0h0M942.6 713.4h0M924.9 689.6h0M924.9 698.3h0M924.6 675.4h0M926.0 696.2h0M921.9 661.0h0M929.6 662.8h0M947.4 728.3h0M931.5 723.2h0M922.9 704.6h0M930.7 699.0h0M924.4 655.7h0M933.5 708.9h0M923.7 722.5h0M939.6 687.1h0M942.3 668.7h0M939.9 677.2h0M939.1 710.7h0M920.8 693.5h0M923.6 721.2h0M893.0 621.2h0M932.1 678.7h0M926.3 718.9h0M940.9 727.8h0M926.0 713.8h0M926.4 728.8h0M923.7 714.9h0M930.9 677.6h0M945.3 711.5h0M925.5 706.4h0M929.4 717.5h0M926.1 675.3h0M977.7 719.1h0M927.1 720.5h0M933.5 698.9h0M924.9 658.0h0M946.6 682.5h0M924.8 700.6h0M934.4 715.4h0M932.7 681.8h0M954.7 701.5h0M970.7 665.2h0M937.0 709.8h0M950.8 688.1h0M920.5 620.1h0M951.7 674.0h0M935.3 701.0h0M969.2 704.9h0M940.5 722.1h0M936.5 714.6h0M926.7 721.7h0M927.6 673.6h0M945.9 680.6h0M923.0 711.0h0M954.0 661.2h0M926.3 680.9h0M980.8 686.4h0M926.7 686.3h0M959.1 714.8h0M938.7 693.5h0M939.1 685.4h0M935.4 713.4h0M922.5 683.6h0M937.9 714.3h0M944.4 701.0h0M925.9 718.1h0M932.8 727.3h0M936.6 709.4h0M963.7 691.1h0M926.6 706.2h0M928.8 678.3h0M937.3 688.0h0M923.5 685.0h0M938.2 688.6h0M963.2 695.8h0M931.3 706.9h0M932.2 675.3h0M939.9 692.0h0M925.3 696.0h0M900.7 631.9h0M925.8 674.7h0M935.3 698.2h0M946.7 726.1h0M942.1 704.7h0M923.7 652.0h0M928.6 712.7h0M935.6 614.2h0M934.0 683.1h0M921.0 671.0h0M930.7 711.7h0M933.6 688.9h0M939.5 702.9h0M925.3 671.9h0M932.6 706.1h0M929.6 663.0h0M929.6 727.3h0M944.9 690.4h0M930.7 676.9h0M938.0 697.7h0M925.1 706.6h0M928.5 689.4h0M924.9 705.9h0M949.3 671.6h0M930.8 707.4h0M927.5 718.0h0M929.6 714.4h0M923.1 687.1h0M922.4 696.2h0M940.7 669.1h0M926.2 705.1h0M933.7 713.5h0M921.2 694.1h0M921.3 695.5h0M920.0 676.2h0M943.7 722.7h0M930.4 725.3h0M928.3 671.8h0M923.1 699.7h0M921.9 682.3h0M923.1 693.5h0M923.0 728.3h0M923.2 716.2h0M940.5 702.7h0M923.1 681.1h0M949.3 687.1h0" stroke="#00a500" stroke-width="1.5" stroke-linecap="square"/>
<path d="M925.5 649.5h0M940.9 658.4h0M924.7 685.3h0M922.7 691.5h0M924.0 725.0h0M924.9 637.2h0M920.4 596.6h0M924.1 687.0h0M929.7 672.8h0M934.8 673.7h0M931.0 661.5h0M923.3 633.1h0M929.9 643.5h0M928.2 703.8h0M926.8 693.5h0M889.0 655.0h0M925.4 697.4h0M936.2 681.9h0M955.5 627.5h0M931.5 627.9h0M938.4 620.3h0M926.0 715.5h0M926.9 707.9h0M925.5 698.0h0M938.8 615.9h0M934.8 665.3h0M934.6 653.8h0M913.6 627.9h0M930.6 635.3h0M948.9 654.9h0M922.8 648.7h0M922.5 636.8h0M921.8 675.2h0M950.7 692.2h0M935.3 632.5h0M936.6 642.0h0M921.9 669.1h0M898.9 621.9h0M938.2 724.5h0M932.9 683.4h0M923.8 724.5h0M922.4 680.9h0M937.3 694.5h0M947.3 656.2h0M921.5 670.0h0M917.2 601.2h0M920.4 589.7h0M923.5 694.8h0M920.9 666.3h0M960.1 640.3h0M932.2 614.8h0M931.7 688.8h0M923.8 712.2h0M922.4 641.8h0M920.5 653.1h0M940.4 698.4h0M933.2 689.5h0M925.6 691.4h0M895.2 627.2h0M947.3 654.9h0M922.1 623.2h0M944.3 612.2h0M921.5 659.4h0M923.9 665.5h0M924.5 642.1h0M935.7 689.1h0M920.9 695.6h0M904.3 623.0h0M917.4 638.9h0M948.8 652.3h0M924.2 665.6h0M922.1 659.8h0M924.6 646.9h0M954.4 682.3h0M910.0 620.2h0M927.2 684.4h0M932.2 663.6h0M942.3 686.0h0M939.7 683.2h0M934.6 672.3h0M975.2 644.1h0M925.2 682.9h0M1002.9 663.2h0M927.1 629.0h0M936.6 684.7h0M944.8 618.6h0M931.9 654.2h0M949.1 626.8h0M926.0 690.6h0M915.3 629.5h0M921.4 683.3h0M892.2 641.3h0M924.1 713.6h0M929.5 681.8h0M932.6 678.3h0M922.0 617.5h0M920.6 688.0h0M946.0 634.2h0M942.4 691.6h0M932.9 645.3h0M931.5 658.3h0M936.1 689.8h0M921.5 641.7h0M929.3 693.7h0M921.6 683.5h0M928.6 697.6h0M895.8 634.4h0M928.3 659.2h0M943.0 678.3h0M940.7 685.6h0M923.9 631.3h0M909.9 620.9h0M933.4 709.3h0M934.6 681.8h0M942.7 611.3h0M932.5 727.3h0M946.8 660.0h0M928.1 673.6h0M923.3 704.0h0M923.8 628.3h0M902.5 631.4h0M970.4 622.5h0M919.9 637.7h0M956.9 660.5h0M937.5 651.3h0M934.8 656.9h0M922.4 678.3h0M930.9 669.2h0M938.8 702.3h0M929.5 642.4h0M922.3 704.5h0M948.3 665.2h0M896.5 617.8h0M941.6 644.9h0M925.1 710.0h0M944.7 663.5h0M937.2 670.3h0M973.8 621.4h0M927.8 618.6h0M920.7 643.9h0M894.0 632.6h0M951.5 676.2h0M935.6 707.1h0M908.5 589.6h0M922.5 621.2h0M928.9 659.5h0M940.0 617.8h0M923.2 639.0h0M928.3 653.1h0M931.5 717.7h0M900.7 626.1h0M938.8 671.8h0M894.1 638.3h0M927.9 606.1h0M925.2 670.2h0M926.6 627.0h0M932.2 721.5h0M906.9 627.0h0M919.3 612.1h0M934.9 704.1h0M936.8 692.1h0M924.5 707.9h0M945.8 652.0h0M924.2 643.1h0M928.1 697.8h0M938.6 639.8h0M925.9 674.5h0M912.5 599.7h0M935.0 665.9h0M939.2 670.5h0M939.8 671.2h0M924.7 630.3h0M926.8 727.7h0M929.8 686.0h0M929.2 716.2h0M927.3 707.6h0M938.6 661.3h0M924.6 707.0h0M922.1 635.0h0M927.2 707.3h0M942.1 690.5h0M923.0 728.0h0M909.7 623.2h0M923.2 653.4h0M921.3 676.6h0M948.0 682.0h0M921.7 663.4h0M958.6 658.1h0M929.2 681.4h0M903.8 627.9h0M901.4 628.2h0M916.7 634.8h0M947.3 676.8h0" stroke="#00a500" stroke-width="2.0" stroke-linecap="square"/>
<path d="M937.7 644.7h0M916.0 633.2h0M932.6 720.4h0M948.3 662.7h0M905.8 618.8h0M911.2 591.8h0M924.9 639.7h0M922.4 649.1h0M929.7 601.9h0M939.5 634.0h0M925.3 606.9h0M949.9 584.1h0M924.9 638.3h0M908.7 626.9h0M904.9 594.7h0M920.0 586.0h0M925.1 670.4h0M930.4 616.0h0M928.1 650.9h0M916.4 632.5h0M897.8 593.9h0M967.5 604.5h0M947.8 676.3h0M914.8 618.1h0M939.4 620.1h0M923.9 585.5h0M904.8 628.7h0M924.2 695.1h0M937.0 636.4h0M924.9 622.7h0M919.9 632.9h0M916.6 626.5h0M905.2 604.1h0M906.0 630.0h0M933.9 660.2h0M923.5 683.0h0M961.2 654.5h0M900.2 617.9h0M937.0 662.5h0M924.4 675.9h0M924.1 621.4h0M927.3 643.1h0M912.0 594.8h0M931.1 634.1h0M915.2 618.4h0M980.1 638.3h0M910.9 615.1h0M921.5 701.6h0M905.8 619.9h0M928.1 629.2h0M929.7 601.6h0M922.8 637.9h0M905.4 604.7h0M903.2 625.9h0M933.5 642.0h0M947.7 647.3h0M954.2 629.6h0M900.7 633.4h0M920.1 656.3h0M946.4 609.3h0M919.8 611.4h0M925.2 615.1h0M930.5 635.7h0M940.1 661.7h0M933.0 628.5h0M934.3 671.0h0M921.9 601.5h0M917.5 591.8h0M917.0 610.6h0M929.9 613.8h0M923.2 664.6h0M920.0 649.5h0M921.8 633.6h0M906.6 612.5h0M920.3 619.0h0M949.4 682.3h0M932.0 646.1h0M927.1 677.6h0M922.5 628.7h0M926.7 660.9h0M910.2 594.8h0M940.6 610.1h0M931.0 680.6h0M921.0 660.6h0M912.2 622.1h0M950.0 621.6h0M924.2 661.8h0M930.0 663.4h0M908.7 627.4h0M907.0 621.9h0M914.8 615.8h0M932.1 594.2h0M971.1 692.2h0M952.4 596.9h0M945.0 595.4h0M918.1 591.8h0M935.2 667.3h0M925.6 691.9h0M919.4 564.7h0M920.9 629.4h0M941.6 689.5h0M925.1 646.2h0M935.4 644.3h0M951.5 604.6h0M922.4 584.6h0M945.2 689.2h0M924.4 680.9h0M920.0 652.8h0M962.0 613.5h0M929.3 693.4h0M965.3 625.1h0M918.1 632.9h0M932.6 642.0h0M924.8 672.9h0M973.3 583.8h0M934.4 671.2h0M916.8 633.7h0M929.1 635.7h0M937.5 624.5h0M954.8 605.4h0M933.3 630.5h0M940.9 640.2h0M918.6 632.1h0M940.7 592.0h0M926.5 702.7h0M942.6 608.9h0M930.2 662.5h0M931.0 665.0h0M933.0 649.3h0M937.0 644.0h0M919.9 594.2h0M920.2 613.0h0M944.0 613.0h0M924.1 681.9h0M928.9 661.9h0M892.2 629.3h0M910.7 612.2h0M916.9 631.0h0M930.1 680.6h0M926.5 585.9h0M908.3 612.4h0M928.2 681.2h0M919.6 622.1h0M927.0 659.3h0M917.8 606.5h0M925.8 662.1h0M934.8 593.2h0M934.0 642.7h0M933.9 610.7h0M958.6 646.8h0M924.8 621.2h0M935.3 589.8h0M934.5 647.4h0M944.9 628.3h0M932.6 635.3h0M925.8 667.0h0M928.5 631.8h0M932.7 667.4h0M924.7 612.0h0M934.7 623.3h0M933.5 655.2h0M930.9 659.9h0M926.4 586.2h0M911.9 606.3h0M949.7 623.6h0M941.1 613.9h0M902.3 622.4h0M930.0 619.1h0M928.1 621.8h0M928.8 653.2h0M964.3 572.6h0M940.5 627.4h0M907.4 614.6h0M954.8 595.8h0M908.7 625.2h0M928.4 654.3h0M921.4 695.7h0M938.9 692.4h0M899.5 617.3h0M922.2 633.7h0M945.8 599.8h0M927.1 652.4h0M917.3 585.4h0M947.3 578.2h0M928.4 605.8h0M938.6 655.4h0M938.9 618.4h0M901.9 628.3h0M929.9 588.7h0M922.9 681.9h0M930.3 679.4h0M950.7 667.4h0M961.2 654.7h0M923.9 670.8h0M921.4 641.9h0M900.8 627.3h0M929.7 680.2h0M941.8 630.7h0M921.9 631.6h0M944.5 624.0h0M922.3 665.6h0M940.1 539.9h0M915.5 606.3h0" stroke="#00a500" stroke-width="2.5" stroke-linecap="square"/>
<path d="M919.8 587.1h0M913.9 613.0h0M934.6 596.9h0M926.5 601.4h0M965.4 579.9h0M913.1 613.6h0M910.2 610.2h0M914.5 632.3h0M954.5 573.0h0M909.5 593.0h0M911.3 626.3h0M937.3 586.2h0M923.6 606.7h0M944.5 580.4h0M916.8 532.9h0M960.9 579.0h0M942.6 605.0h0M911.0 620.4h0M940.8 619.2h0M975.0 582.3h0M914.0 581.3h0M918.1 622.6h0M975.8 587.5h0M928.9 613.5h0M926.1 577.3h0M919.3 620.7h0M919.5 588.0h0M935.4 602.6h0M909.1 618.3h0M936.2 642.1h0M927.7 591.5h0M937.1 568.1h0M968.8 574.3h0M968.3 570.9h0M929.3 587.2h0M969.9 584.7h0M919.5 650.7h0M924.0 622.6h0M922.9 585.2h0M905.6 623.4h0M938.3 604.5h0M924.9 619.4h0M920.7 632.9h0M920.8 644.2h0M917.1 635.5h0M943.3 613.6h0M904.8 611.2h0M933.7 546.3h0M932.6 646.0h0M947.0 566.7h0M903.8 625.0h0M936.6 558.5h0M937.8 577.2h0M929.8 612.3h0M944.8 599.6h0M949.1 575.4h0M920.2 600.3h0M918.2 624.8h0M927.9 628.2h0M931.7 623.9h0M980.2 618.1h0M981.8 606.4h0M917.4 616.0h0M957.8 567.0h0M930.7 605.3h0M921.7 604.9h0M955.6 549.9h0M959.3 549.9h0M921.5 643.3h0M943.1 654.7h0M911.5 578.1h0M957.0 561.7h0M950.0 601.2h0M951.4 588.9h0M936.7 576.5h0M929.1 610.4h0M945.1 531.7h0M946.3 586.9h0M922.6 627.7h0M930.9 594.3h0M921.8 585.0h0M929.2 571.4h0M930.2 555.2h0M930.0 618.6h0M912.5 603.7h0M916.6 608.2h0M910.9 557.8h0M1001.5 570.2h0M914.7 608.8h0M973.7 556.4h0M934.1 614.5h0M928.2 588.6h0M921.6 591.7h0M925.7 659.2h0M911.4 594.7h0M921.3 595.6h0M939.3 589.0h0M921.4 628.9h0M909.1 622.9h0M927.2 609.2h0M927.8 569.1h0M916.9 622.7h0M906.2 598.8h0M982.5 587.1h0M939.3 544.4h0M1008.3 579.4h0M955.2 612.7h0M998.0 561.6h0" stroke="#00a500" stroke-width="3.0" stroke-linecap="square"/>
<path d="M970.9 559.8h0M928.0 523.6h0M921.6 553.2h0M917.5 549.1h0M920.5 571.2h0M927.3 599.9h0M942.7 551.6h0M927.1 535.1h0M954.9 529.9h0M909.1 620.1h0M918.2 518.0h0M908.2 627.2h0M930.2 593.3h0M928.8 564.3h0M923.4 597.4h0M939.8 592.6h0M942.7 593.1h0M928.3 567.6h0M965.5 537.0h0M929.1 576.7h0M927.1 603.0h0M941.5 554.0h0M909.7 600.3h0M966.2 597.8h0M932.0 567.6h0M921.0 538.8h0M927.5 525.2h0M919.5 594.7h0M935.3 572.5h0M924.3 582.8h0M932.3 546.5h0M931.8 570.7h0M927.3 576.3h0M908.7 587.3h0M923.1 522.9h0M984.2 541.1h0M1047.0 533.1h0" stroke="#00a500" stroke-width="3.5" stroke-linecap="square"/>
<path d="M931.4 516.5h0M937.6 545.4h0M920.6 547.7h0M931.3 575.3h0M981.6 538.8h0M960.9 549.5h0M911.2 532.1h0M933.6 526.7h0" stroke="#00a500" stroke-width="4.0" stroke-linecap="square"/>
<path d="M948.1 521.9h0" stroke="#00a500" stroke-width="4.5" stroke-linecap="square"/>
</g>
<defs>
<filter id="bandblur" x="-10%" y="-100%" width="120%" height="300%"><feGaussianBlur stdDeviation="0.9 0.7"/></filter>
<filter id="spotblur" x="-50%" y="-50%" width="200%" height="200%"><feGaussianBlur stdDeviation="0.6"/></filter>
<linearGradient id="blot1g" x1="0" y1="0" x2="1" y2="0"><stop offset="0" stop-color="#8a8a8a"/><stop offset="0.5" stop-color="#8f8f8f"/><stop offset="1" stop-color="#8b8b8b"/></linearGradient>
<linearGradient id="blot2g" x1="0" y1="0" x2="1" y2="1"><stop offset="0" stop-color="#b5b5b5"/><stop offset="0.5" stop-color="#b3b3b3"/><stop offset="1" stop-color="#b8b8b8"/></linearGradient>
</defs>
<rect x="82.5" y="999.6" width="139.9" height="54.2" fill="url(#blot1g)" stroke="#000" stroke-width="3"/>
<rect x="82.5" y="1059.5" width="139.9" height="54.4" fill="url(#blot2g)" stroke="#000" stroke-width="3"/>
<g filter="url(#bandblur)">
<path d="M95.5 1030.5C96 1026.5 100 1026.2 110 1026.4C125 1026 140 1025.3 146.5 1026.8C148.5 1028.5 147.5 1030.5 145 1030.8C135 1030.6 120 1030.8 110 1031.5C100 1032 96 1032.5 95.5 1030.5Z" fill="#2a2a2a"/>
<path d="M164.5 1028.5C165 1025.5 170 1025.6 180 1025.7C195 1025.5 207 1025 212 1026.2C214 1028 213.5 1030.2 211 1030.6C200 1030.8 185 1030.6 175 1030.8C168 1031 164.5 1030.5 164.5 1028.5Z" fill="#262626"/>
<path d="M87 1088.6C90 1087 100 1087.2 110 1086.8C125 1086.3 140 1086.2 147.5 1087C148.5 1088.5 147.5 1089.8 145 1089.9C130 1090 115 1089.7 100 1089.9C92 1090 87.5 1089.8 87 1088.6Z" fill="#303030"/>
<path d="M163.5 1088.3C166 1086.8 172 1087 180 1087.1C195 1087.3 207 1088 214 1088.6C214.5 1089.8 212 1090.6 208 1090.4C195 1090 180 1089.9 170 1090C166 1090 163.5 1089.6 163.5 1088.3Z" fill="#353535"/>
</g>
<g filter="url(#spotblur)" fill="#1e1e1e"><circle cx="89.2" cy="1010.4" r="1.8"/><ellipse cx="163.3" cy="1040.3" rx="2.6" ry="2"/><ellipse cx="201.1" cy="1044.3" rx="1.7" ry="2.2"/><circle cx="136" cy="1040.2" r="1"/><circle cx="104" cy="1004.5" r="0.9"/><circle cx="180.5" cy="1065" r="0.8"/></g>
<text transform="translate(119.8 989.6) rotate(-45) scale(1.0300 1)" font-size="24" fill="#0d0d0d">Nsc-exo</text>
<text transform="translate(179.6 989.9) rotate(-45) scale(1.0300 1)" font-size="24" fill="#0d0d0d">Sc-exo</text>
<defs>
<filter id="temE" x="455.4" y="843.0" width="321.5" height="307.4000000000001" filterUnits="userSpaceOnUse" color-interpolation-filters="sRGB">
  <feTurbulence type="fractalNoise" baseFrequency="0.2" numOctaves="2" seed="5"/>
  <feColorMatrix type="matrix" values="1 0 0 0 0  1 0 0 0 0  1 0 0 0 0  0 0 0 0 1" result="n1"/>
  <feTurbulence type="fractalNoise" baseFrequency="0.015" numOctaves="3" seed="11"/>
  <feColorMatrix type="matrix" values="1 0 0 0 0  1 0 0 0 0  1 0 0 0 0  0 0 0 0 1" result="n2"/>
  <feComposite in="n1" in2="n2" operator="arithmetic" k1="0" k2="0.72" k3="0.3" k4="0.205"/>
  <feGaussianBlur stdDeviation="0.45"/>
</filter>
<filter id="temF" x="781.0" y="843.0" width="321.29999999999995" height="307.4000000000001" filterUnits="userSpaceOnUse" color-interpolation-filters="sRGB">
  <feTurbulence type="fractalNoise" baseFrequency="0.3" numOctaves="2" seed="8"/>
  <feColorMatrix type="matrix" values="1 0 0 0 0  1 0 0 0 0  1 0 0 0 0  0 0 0 0 1" result="n1"/>
  <feTurbulence type="fractalNoise" baseFrequency="0.018" numOctaves="3" seed="21"/>
  <feColorMatrix type="matrix" values="1 0 0 0 0  1 0 0 0 0  1 0 0 0 0  0 0 0 0 1" result="n2"/>
  <feComposite in="n1" in2="n2" operator="arithmetic" k1="0" k2="1.35" k3="0.35" k4="-0.185"/>
</filter>
<filter id="pixF" x="781.0" y="843.0" width="321.29999999999995" height="307.4000000000001" filterUnits="userSpaceOnUse" color-interpolation-filters="sRGB">
  <feFlood x="782.0" y="844.0" width="1" height="1" flood-color="#000"/>
  <feComposite width="3" height="3"/>
  <feTile result="grid"/>
  <feComposite in="SourceGraphic" in2="grid" operator="in"/>
  <feMorphology operator="dilate" radius="1"/>
</filter>
<radialGradient id="pd"><stop offset="0" stop-color="#111" stop-opacity="0.95"/><stop offset="0.45" stop-color="#1a1a1a" stop-opacity="0.8"/><stop offset="1" stop-color="#333" stop-opacity="0"/></radialGradient>
<radialGradient id="pm"><stop offset="0" stop-color="#222" stop-opacity="0.75"/><stop offset="0.5" stop-color="#333" stop-opacity="0.45"/><stop offset="1" stop-color="#444" stop-opacity="0"/></radialGradient>
<radialGradient id="pf"><stop offset="0" stop-color="#444" stop-opacity="0.45"/><stop offset="1" stop-color="#555" stop-opacity="0"/></radialGradient>
<clipPath id="eclip"><rect x="455.4" y="843.0" width="321.5" height="307.4000000000001"/></clipPath>
<clipPath id="fclip"><rect x="781.0" y="843.0" width="321.29999999999995" height="307.4000000000001"/></clipPath>
</defs>
<rect x="455.4" y="843.0" width="321.5" height="307.4000000000001" fill="#999" filter="url(#temE)"/>
<defs><filter id="pb" x="-50%" y="-50%" width="200%" height="200%"><feTurbulence type="fractalNoise" baseFrequency="0.35" numOctaves="2" seed="3" result="t"/><feColorMatrix in="t" type="matrix" values="0 0 0 0 0  0 0 0 0 0  0 0 0 0 0  3.2 0 0 0 -0.55" result="ta"/><feComposite in="SourceGraphic" in2="ta" operator="in"/><feGaussianBlur stdDeviation="1.0"/></filter><filter id="pc" x="-50%" y="-50%" width="200%" height="200%"><feGaussianBlur stdDeviation="1.4"/></filter><filter id="pb2" x="-50%" y="-50%" width="200%" height="200%"><feGaussianBlur stdDeviation="2.5"/></filter><filter id="pbF" x="-50%" y="-50%" width="200%" height="200%"><feTurbulence type="fractalNoise" baseFrequency="0.12" numOctaves="2" seed="13" result="t"/><feColorMatrix in="t" type="matrix" values="0 0 0 0 0  0 0 0 0 0  0 0 0 0 0  2.5 0 0 0 -0.7" result="ta"/><feGaussianBlur in="SourceGraphic" stdDeviation="3" result="sb"/><feComposite in="sb" in2="ta" operator="in"/></filter><filter id="pbc" x="-50%" y="-50%" width="200%" height="200%"><feTurbulence type="fractalNoise" baseFrequency="0.3" numOctaves="2" seed="17" result="t"/><feColorMatrix in="t" type="matrix" values="0 0 0 0 0  0 0 0 0 0  0 0 0 0 0  2.4 0 0 0 -0.35" result="ta"/><feGaussianBlur in="SourceGraphic" stdDeviation="2" result="sb"/><feComposite in="sb" in2="ta" operator="in"/></filter></defs>
<g clip-path="url(#eclip)">
<g filter="url(#pb2)" fill="#555">
<ellipse cx="598.5" cy="875" rx="15" ry="15" opacity="0.35"/>
<ellipse cx="691.5" cy="877.5" rx="11" ry="11" opacity="0.3"/>
<ellipse cx="571.5" cy="946" rx="15" ry="15" opacity="0.3"/>
<ellipse cx="491.2" cy="1018.9" rx="17" ry="17" opacity="0.35"/>
<ellipse cx="678" cy="1029.4" rx="13" ry="13" opacity="0.3"/>
<ellipse cx="748.8" cy="990" rx="14" ry="20" opacity="0.45"/>
<ellipse cx="520.4" cy="911" rx="8" ry="12" opacity="0.35"/>
<ellipse cx="716" cy="956" rx="14" ry="6" opacity="0.35"/>
<ellipse cx="666" cy="899.7" rx="7" ry="7" opacity="0.25"/>
<ellipse cx="701" cy="922.9" rx="8" ry="8" opacity="0.25"/>
<ellipse cx="706" cy="951" rx="6" ry="6" opacity="0.2"/>
<ellipse cx="629" cy="973.4" rx="5" ry="12" opacity="0.25"/>
<ellipse cx="709.7" cy="896" rx="6" ry="6" opacity="0.2"/>
<ellipse cx="530" cy="971.8" rx="8" ry="8" opacity="0.25"/>
<ellipse cx="462" cy="1079" rx="8" ry="10" opacity="0.2"/>
<ellipse cx="560" cy="1075" rx="12" ry="10" opacity="0.15"/>
<ellipse cx="730" cy="1125" rx="10" ry="8" opacity="0.15"/>
</g>
<g filter="url(#pc)" fill="#151515">
<ellipse cx="598.5" cy="875" rx="9.5" ry="9.5" opacity="1"/>
<ellipse cx="691.5" cy="877.5" rx="6" ry="5.5" opacity="0.95"/>
<ellipse cx="491.2" cy="1018.9" rx="10" ry="9.5" opacity="1"/>
<ellipse cx="678" cy="1029.4" rx="5.5" ry="5.5" opacity="0.95"/>
<ellipse cx="748.8" cy="990" rx="9" ry="15" opacity="0.5"/>
<ellipse cx="520.4" cy="911" rx="5" ry="9" opacity="0.35"/>
</g>
<g filter="url(#pb)" fill="none" stroke="#1a1a1a">
<circle cx="571.5" cy="946" r="8" stroke-width="6" opacity="0.75"/>
<circle cx="678" cy="1029.4" r="8.5" stroke-width="4" opacity="0.55"/>
<circle cx="491.2" cy="1018.9" r="12" stroke-width="4" opacity="0.7"/>
<circle cx="598.5" cy="875" r="11" stroke-width="4" opacity="0.7"/>
<circle cx="691.5" cy="877.5" r="8" stroke-width="3" opacity="0.4"/>
</g>
<circle cx="571.5" cy="946" r="6.5" fill="#1a1a1a" opacity="0.85" filter="url(#pc)"/>
</g>
<rect x="463.9" y="989.5" width="59" height="59" fill="none" stroke="#fff" stroke-width="3.2"/>
<path d="M523.5 989L777.5 843.2M523.5 1049L682.5 1108.7" stroke="#fff" stroke-width="3.2" fill="none"/>
<rect x="455.9" y="1136.2" width="56.8" height="13.3" fill="#fff"/>
<path d="M458 1139.5h12M507 1139.5h4M458 1143h20M505 1143h6M458 1146.5h35M500 1146.5h11" stroke="#999" stroke-width="1"/>
<rect x="455.4" y="843.0" width="321.5" height="307.4000000000001" fill="none" stroke="#555" stroke-width="1"/>
<rect x="682.5" y="1104.1" width="93.7" height="45.6" fill="#fff" stroke="#111" stroke-width="1.6"/>
<rect x="695.9" y="1137.9" width="67.3" height="3" fill="#000"/>
<g filter="url(#pixF)">
<rect x="781.0" y="843.0" width="321.29999999999995" height="307.4000000000001" fill="#999" filter="url(#temF)"/>
<g clip-path="url(#fclip)">
<g filter="url(#pbF)" fill="#333">
<ellipse cx="1010" cy="868" rx="38" ry="18" opacity="0.5"/>
<ellipse cx="985" cy="858" rx="18" ry="10" opacity="0.35"/>
<ellipse cx="826" cy="902" rx="12" ry="10" opacity="0.3"/>
<ellipse cx="789" cy="940" rx="10" ry="45" opacity="0.35"/>
<ellipse cx="895" cy="1122" rx="30" ry="24" opacity="0.5"/>
<ellipse cx="801" cy="1097" rx="16" ry="16" opacity="0.3"/>
<ellipse cx="1093" cy="1088" rx="12" ry="30" opacity="0.35"/>
<ellipse cx="850" cy="1140" rx="18" ry="12" opacity="0.25"/>
<ellipse cx="1040" cy="960" rx="24" ry="15" opacity="0.15"/>
<ellipse cx="960" cy="1000" rx="18" ry="28" opacity="0.12"/>
<ellipse cx="870" cy="1060" rx="34" ry="14" opacity="0.2"/>
<ellipse cx="935" cy="950" rx="24" ry="12" opacity="0.15"/>
<ellipse cx="830" cy="1020" rx="15" ry="20" opacity="0.15"/>
<ellipse cx="1060" cy="1130" rx="20" ry="12" opacity="0.2"/>
</g>
<ellipse cx="893" cy="1006" rx="47" ry="41" fill="#2a2a2a" opacity="0.6" filter="url(#pbc)"/>
<ellipse cx="891" cy="1004.5" rx="30" ry="29" fill="#111" opacity="0.95" filter="url(#pbc)"/>
<ellipse cx="890" cy="1003" rx="22" ry="20" fill="#080808" opacity="0.75" filter="url(#pc)"/>
</g>
</g>
<rect x="781.0" y="843.0" width="321.29999999999995" height="307.4000000000001" fill="none" stroke="#555" stroke-width="1"/>
<rect x="1007.2" y="1104.1" width="94.3" height="45.4" fill="#fff" stroke="#111" stroke-width="1.6"/>
<rect x="1024.1" y="1137.9" width="61.5" height="2.8" fill="#000"/>
<path d="M537 101V369.2H745.7" fill="none" stroke="#1a1a1a" stroke-width="1.8"/>
<path d="M530.5 120.4H537M530.5 203.2H537M530.5 286.2H537M575.1 369.2V375.7M650.8 369.2V375.7M726.9 369.2V375.7" fill="none" stroke="#1a1a1a" stroke-width="1.8"/>
<text transform="translate(492.22 127.3) scale(1.0269 1)" font-size="21.5" fill="#0d0d0d">1.2</text>
<text transform="translate(491.73 210) scale(1.0386 1)" font-size="21.5" fill="#0d0d0d">0.8</text>
<text transform="translate(491.94 293.4) scale(1.0275 1)" font-size="21.5" fill="#0d0d0d">0.4</text>
<text transform="translate(510.53 376.8) scale(1.0500 1)" font-size="21.5" fill="#0d0d0d">0</text>
<text transform="translate(557.04 400) scale(1.0121 1)" font-size="21.5" fill="#0d0d0d">100</text>
<text transform="translate(632.16 397.2) scale(1.0318 1)" font-size="21.5" fill="#0d0d0d">300</text>
<text transform="translate(708.41 397.2) scale(1.0330 1)" font-size="21.5" fill="#0d0d0d">500</text>
<text transform="translate(592.86 428.4) scale(1.0208 1)" font-size="22.5" fill="#0d0d0d">Size (nm)</text>
<text transform="translate(476 377.15) rotate(-90) scale(0.9657 1)" font-size="23.5" fill="#0d0d0d">Concentration (particles/ml)</text>
<path d="M866 102.8V369.7H1074.6" fill="none" stroke="#1a1a1a" stroke-width="1.8"/>
<path d="M859.5 104.4H866M859.5 157.8H866M859.5 211.2H866M859.5 264.2H866M859.5 316.8H866M903.6 369.7V376.2M980.2 369.7V376.2M1056.6 369.7V376.2" fill="none" stroke="#1a1a1a" stroke-width="1.8"/>
<text transform="translate(821.94 111.4) scale(1.0142 1)" font-size="21.5" fill="#0d0d0d">1.0</text>
<text transform="translate(821.53 163.8) scale(1.0315 1)" font-size="21.5" fill="#0d0d0d">0.8</text>
<text transform="translate(821.53 218.2) scale(1.0319 1)" font-size="21.5" fill="#0d0d0d">0.6</text>
<text transform="translate(821.54 271) scale(1.0205 1)" font-size="21.5" fill="#0d0d0d">0.4</text>
<text transform="translate(821.63 321.6) scale(1.0405 1)" font-size="21.5" fill="#0d0d0d">0.2</text>
<text transform="translate(839.93 375.6) scale(1.0500 1)" font-size="21.5" fill="#0d0d0d">0</text>
<text transform="translate(886.14 401.2) scale(1.0121 1)" font-size="21.5" fill="#0d0d0d">100</text>
<text transform="translate(961.77 398.3) scale(1.0172 1)" font-size="21.5" fill="#0d0d0d">300</text>
<text transform="translate(1037.49 398.3) scale(1.0535 1)" font-size="21.5" fill="#0d0d0d">500</text>
<text transform="translate(922.26 429) scale(1.0144 1)" font-size="22.5" fill="#0d0d0d">Size (nm)</text>
<text transform="translate(806.3 376.76) rotate(-90) scale(0.9752 1)" font-size="23.5" fill="#0d0d0d">Concentration (particles/ml)</text>
<path d="M532.5 456V723.8H749.6" fill="none" stroke="#1a1a1a" stroke-width="1.8"/>
<path d="M526 489H532.5M526 547.9H532.5M526 606.5H532.5M526 664.8H532.5M570.2 723.8V730.3M646.3 723.8V730.3M722.7 723.8V730.3" fill="none" stroke="#1a1a1a" stroke-width="1.8"/>
<text transform="translate(505.91 496.6) scale(1.0500 1)" font-size="21.5" fill="#0d0d0d">4</text>
<text transform="translate(506.24 555.4) scale(1.0500 1)" font-size="21.5" fill="#0d0d0d">3</text>
<text transform="translate(506.38 614) scale(1.0500 1)" font-size="21.5" fill="#0d0d0d">2</text>
<text transform="translate(506.35 671.7) scale(1.0500 1)" font-size="21.5" fill="#0d0d0d">1</text>
<text transform="translate(506.13 729.5) scale(1.0500 1)" font-size="21.5" fill="#0d0d0d">0</text>
<text transform="translate(552.24 751.2) scale(1.0151 1)" font-size="21.5" fill="#0d0d0d">100</text>
<text transform="translate(627.85 751.2) scale(1.0376 1)" font-size="21.5" fill="#0d0d0d">300</text>
<text transform="translate(704.22 751.2) scale(1.0243 1)" font-size="21.5" fill="#0d0d0d">500</text>
<text transform="translate(588.26 780.4) scale(1.0198 1)" font-size="22.5" fill="#0d0d0d">Size (nm)</text>
<text transform="translate(492.6 677.2) rotate(-90) scale(1.0114 1)" font-size="22.5" fill="#0d0d0d">Intensity (a. u.)</text>
<path d="M863.8 462V729.1H1078.9" fill="none" stroke="#1a1a1a" stroke-width="1.8"/>
<path d="M857.3 497H863.8M857.3 555.2H863.8M857.3 613.2H863.8M857.3 670.8H863.8M902.5 729.1V735.6M977.7 729.1V735.6M1054.4 729.1V735.6" fill="none" stroke="#1a1a1a" stroke-width="1.8"/>
<text transform="translate(839.11 503.2) scale(1.0500 1)" font-size="21.5" fill="#0d0d0d">4</text>
<text transform="translate(839.44 561.8) scale(1.0500 1)" font-size="21.5" fill="#0d0d0d">3</text>
<text transform="translate(839.58 620.4) scale(1.0500 1)" font-size="21.5" fill="#0d0d0d">2</text>
<text transform="translate(839.55 677.6) scale(1.0500 1)" font-size="21.5" fill="#0d0d0d">1</text>
<text transform="translate(839.33 736) scale(1.0500 1)" font-size="21.5" fill="#0d0d0d">0</text>
<text transform="translate(882.38 757.3) scale(1.0481 1)" font-size="21.5" fill="#0d0d0d">100</text>
<text transform="translate(958.16 757.3) scale(1.0230 1)" font-size="21.5" fill="#0d0d0d">300</text>
<text transform="translate(1034.3 757.3) scale(1.0477 1)" font-size="21.5" fill="#0d0d0d">500</text>
<text transform="translate(919.26 786.5) scale(1.0134 1)" font-size="22.5" fill="#0d0d0d">Size (nm)</text>
<text transform="translate(826 677.82) rotate(-90) scale(1.0231 1)" font-size="22.5" fill="#0d0d0d">Intensity (a. u.)</text>
<rect x="539.8" y="803.9" width="27.6" height="16.1" fill="#00ff78"/>
<rect x="720.6" y="804" width="27.8" height="16.1" fill="#00c07a"/>
<rect x="901.3" y="804" width="27.3" height="16.1" fill="#00a500"/>
<text transform="translate(581.28 819) scale(1.0153 1)" font-size="21.8" fill="#0d0d0d">Capture 1</text>
<text transform="translate(762.95 819) scale(1.0381 1)" font-size="21.8" fill="#0d0d0d">Capture 2</text>
<text transform="translate(943.64 819) scale(1.0462 1)" font-size="21.8" fill="#0d0d0d">Capture 3</text>
<text transform="translate(22.83 52.6) scale(0.9704 1)" font-size="34.5" fill="#0d0d0d">A</text>
<text transform="translate(34.42 448) scale(1.0488 1)" font-size="33.5" fill="#0d0d0d">B</text>
<text transform="translate(420.83 52) scale(1.0575 1)" font-size="33" fill="#0d0d0d">C</text>
<text transform="translate(34.12 882.8) scale(1.0806 1)" font-size="32.5" fill="#0d0d0d">D</text>
<text transform="translate(37.88 90.6) scale(0.9781 1)" font-size="23" fill="#0d0d0d">Sc zones</text>
<text transform="translate(159.34 100.5) scale(0.9880 1)" font-size="23" fill="#0d0d0d">Nsc zones</text>
<text transform="translate(69.87 369.7) scale(0.9837 1)" font-size="23" fill="#0d0d0d">Sc / Nsc</text>
<text transform="translate(37.95 397) scale(0.9859 1)" font-size="23" fill="#0d0d0d">Culture medium</text>
<text transform="translate(261.76 369.7) scale(0.9925 1)" font-size="23" fill="#0d0d0d">Sc</text>
<text transform="translate(355.81 369.7) scale(0.9996 1)" font-size="23" fill="#0d0d0d">Nsc</text>
<text transform="translate(223.4 485.2) scale(1.0625 1)" font-size="23" fill="#0d0d0d">Detached cells</text>
<text transform="translate(223.99 513.6) scale(0.9859 1)" font-size="23" fill="#0d0d0d">(300g 10min)</text>
<text transform="translate(224.95 599.6) scale(1.0537 1)" font-size="23" fill="#0d0d0d">Apoptotic bodies,</text>
<text transform="translate(223.38 628.6) scale(1.0609 1)" font-size="23" fill="#0d0d0d">microvesicles,</text>
<text transform="translate(223.97 657) scale(1.0547 1)" font-size="23" fill="#0d0d0d">cell debris</text>
<text transform="translate(223.58 684.6) scale(0.9925 1)" font-size="23" fill="#0d0d0d">(0.22um filters)</text>
<text transform="translate(224.01 772.2) scale(1.0530 1)" font-size="23" fill="#0d0d0d">Exosomes</text>
<text transform="translate(223.79 799.6) scale(0.9903 1)" font-size="23" fill="#0d0d0d">(100,000g 90min x2)</text>
<text transform="translate(81 756.63) rotate(-90) scale(0.9820 1)" font-size="26.5" fill="#0d0d0d">Exosome extraction</text>
<text transform="translate(580.69 73.5) scale(1.0638 1)" font-size="23" fill="#0d0d0d">Nsc-exo</text>
<text transform="translate(935.1 74.3) scale(1.0564 1)" font-size="23" fill="#0d0d0d">Sc-exo</text>
<text transform="translate(233.73 1034.1) scale(0.9995 1)" font-size="22.8" fill="#0d0d0d">Flotillin-1 (49kD)</text>
<text transform="translate(235.06 1091.7) scale(0.9943 1)" font-size="22.8" fill="#0d0d0d">Annexin (30kD)</text>
<text transform="translate(488.91 881.6) scale(0.9717 1)" font-size="33.8" fill="#0d0d0d">E</text>
<text transform="translate(806.78 881.3) scale(0.9806 1)" font-size="33.8" fill="#0d0d0d">F</text>
<text transform="translate(694.07 1130.9) scale(1.0212 1)" font-size="22.2" fill="#000">100nm</text>
<text transform="translate(1025.49 1130.4) scale(1.0229 1)" font-size="22.2" fill="#000">50nm</text>
</svg>
</body></html>
